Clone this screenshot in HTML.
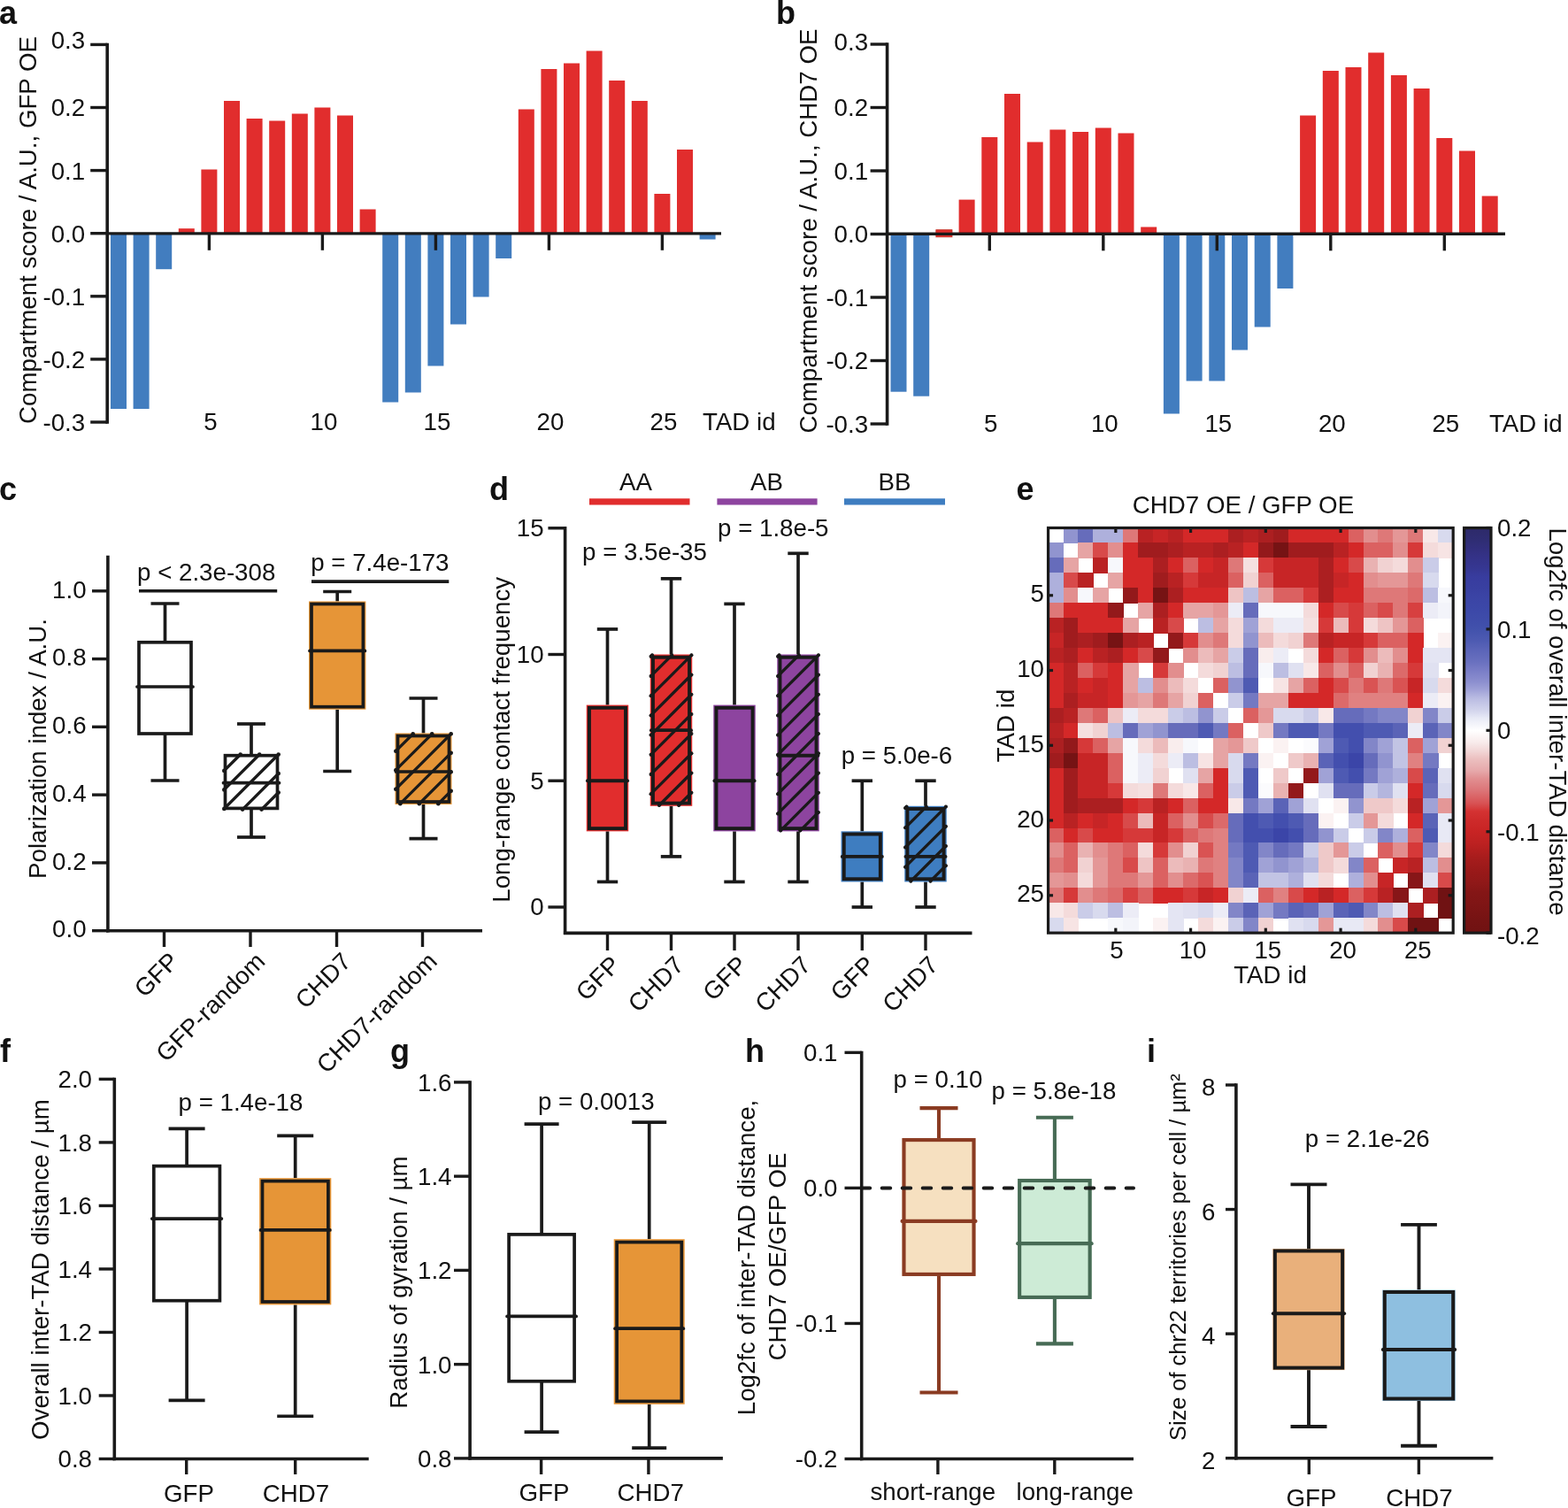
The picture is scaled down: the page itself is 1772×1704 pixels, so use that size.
<!DOCTYPE html><html><head><meta charset="utf-8"><title>Figure</title><style>html,body{margin:0;padding:0;background:#fff;}svg{display:block;}</style></head><body><svg width="1772" height="1704" viewBox="0 0 1772 1704" font-family="'Liberation Sans', Arial, sans-serif" font-size="27.7" fill="#111"><rect width="100%" height="100%" fill="#fff"/><text x="-1" y="27" font-weight="bold" font-size="36">a</text>
<rect x="125" y="263.8" width="18" height="198.2" fill="#427dbf"/>
<rect x="150.6" y="263.8" width="18" height="198.2" fill="#427dbf"/>
<rect x="176.2" y="263.8" width="18" height="40.4" fill="#427dbf"/>
<rect x="201.8" y="258.2" width="18" height="5.6" fill="#e12d2d"/>
<rect x="227.4" y="191.5" width="18" height="72.3" fill="#e12d2d"/>
<rect x="253" y="114" width="18" height="149.8" fill="#e12d2d"/>
<rect x="278.6" y="134" width="18" height="129.8" fill="#e12d2d"/>
<rect x="304.2" y="136.5" width="18" height="127.3" fill="#e12d2d"/>
<rect x="329.8" y="128.5" width="18" height="135.3" fill="#e12d2d"/>
<rect x="355.4" y="121.5" width="18" height="142.3" fill="#e12d2d"/>
<rect x="381" y="130.5" width="18" height="133.3" fill="#e12d2d"/>
<rect x="406.6" y="236.5" width="18" height="27.3" fill="#e12d2d"/>
<rect x="432.2" y="263.8" width="18" height="190.7" fill="#427dbf"/>
<rect x="457.8" y="263.8" width="18" height="179.7" fill="#427dbf"/>
<rect x="483.4" y="263.8" width="18" height="149.7" fill="#427dbf"/>
<rect x="509" y="263.8" width="18" height="102.7" fill="#427dbf"/>
<rect x="534.6" y="263.8" width="18" height="71.7" fill="#427dbf"/>
<rect x="560.2" y="263.8" width="18" height="28.2" fill="#427dbf"/>
<rect x="585.8" y="123.5" width="18" height="140.3" fill="#e12d2d"/>
<rect x="611.4" y="78" width="18" height="185.8" fill="#e12d2d"/>
<rect x="637" y="71.5" width="18" height="192.3" fill="#e12d2d"/>
<rect x="662.6" y="57.5" width="18" height="206.3" fill="#e12d2d"/>
<rect x="688.2" y="91" width="18" height="172.8" fill="#e12d2d"/>
<rect x="713.8" y="114" width="18" height="149.8" fill="#e12d2d"/>
<rect x="739.4" y="219" width="18" height="44.8" fill="#e12d2d"/>
<rect x="765" y="169" width="18" height="94.8" fill="#e12d2d"/>
<rect x="790.6" y="263.8" width="18" height="6.7" fill="#427dbf"/>
<line x1="121.2" y1="48.7" x2="121.2" y2="478.7" stroke="#1a1a1a" stroke-width="3.6"/>
<line x1="121.2" y1="263.8" x2="815" y2="263.8" stroke="#1a1a1a" stroke-width="3.2"/>
<line x1="102.2" y1="50.4" x2="121.2" y2="50.4" stroke="#1a1a1a" stroke-width="3.4"/>
<line x1="102.2" y1="121.5" x2="121.2" y2="121.5" stroke="#1a1a1a" stroke-width="3.4"/>
<line x1="102.2" y1="192.6" x2="121.2" y2="192.6" stroke="#1a1a1a" stroke-width="3.4"/>
<line x1="102.2" y1="263.7" x2="121.2" y2="263.7" stroke="#1a1a1a" stroke-width="3.4"/>
<line x1="102.2" y1="334.8" x2="121.2" y2="334.8" stroke="#1a1a1a" stroke-width="3.4"/>
<line x1="102.2" y1="405.9" x2="121.2" y2="405.9" stroke="#1a1a1a" stroke-width="3.4"/>
<line x1="102.2" y1="477" x2="121.2" y2="477" stroke="#1a1a1a" stroke-width="3.4"/>
<line x1="236.4" y1="263.8" x2="236.4" y2="282.8" stroke="#1a1a1a" stroke-width="3.4"/>
<text x="237.9" y="485.5" text-anchor="middle">5</text>
<line x1="364.4" y1="263.8" x2="364.4" y2="282.8" stroke="#1a1a1a" stroke-width="3.4"/>
<text x="365.9" y="485.5" text-anchor="middle">10</text>
<line x1="492.4" y1="263.8" x2="492.4" y2="282.8" stroke="#1a1a1a" stroke-width="3.4"/>
<text x="493.9" y="485.5" text-anchor="middle">15</text>
<line x1="620.4" y1="263.8" x2="620.4" y2="282.8" stroke="#1a1a1a" stroke-width="3.4"/>
<text x="621.9" y="485.5" text-anchor="middle">20</text>
<line x1="748.4" y1="263.8" x2="748.4" y2="282.8" stroke="#1a1a1a" stroke-width="3.4"/>
<text x="749.9" y="485.5" text-anchor="middle">25</text>
<text x="794" y="485.5">TAD id</text>
<text x="96.2" y="54.8" text-anchor="end">0.3</text>
<text x="96.2" y="131.4" text-anchor="end">0.2</text>
<text x="96.2" y="202.5" text-anchor="end">0.1</text>
<text x="96.2" y="273.6" text-anchor="end">0.0</text>
<text x="96.2" y="344.7" text-anchor="end">-0.1</text>
<text x="96.2" y="415.8" text-anchor="end">-0.2</text>
<text x="96.2" y="486.9" text-anchor="end">-0.3</text>
<text transform="translate(41.2 260) rotate(-90)" text-anchor="middle">Compartment score / A.U., GFP OE</text>
<text x="877" y="27" font-weight="bold" font-size="36">b</text>
<rect x="1006.5" y="264.3" width="18" height="178.4" fill="#427dbf"/>
<rect x="1032.2" y="264.3" width="18" height="183.4" fill="#427dbf"/>
<rect x="1057.9" y="259.8" width="18" height="4.5" fill="#e12d2d"/>
<rect x="1083.6" y="225.6" width="18" height="38.7" fill="#e12d2d"/>
<rect x="1109.3" y="155" width="18" height="109.3" fill="#e12d2d"/>
<rect x="1135" y="106" width="18" height="158.3" fill="#e12d2d"/>
<rect x="1160.7" y="160.5" width="18" height="103.8" fill="#e12d2d"/>
<rect x="1186.4" y="146.5" width="18" height="117.8" fill="#e12d2d"/>
<rect x="1212.1" y="149" width="18" height="115.3" fill="#e12d2d"/>
<rect x="1237.8" y="144.5" width="18" height="119.8" fill="#e12d2d"/>
<rect x="1263.5" y="150.5" width="18" height="113.8" fill="#e12d2d"/>
<rect x="1289.2" y="256.5" width="18" height="7.8" fill="#e12d2d"/>
<rect x="1314.9" y="264.3" width="18" height="203.2" fill="#427dbf"/>
<rect x="1340.6" y="264.3" width="18" height="166.2" fill="#427dbf"/>
<rect x="1366.3" y="264.3" width="18" height="166.2" fill="#427dbf"/>
<rect x="1392" y="264.3" width="18" height="131.2" fill="#427dbf"/>
<rect x="1417.7" y="264.3" width="18" height="105.2" fill="#427dbf"/>
<rect x="1443.4" y="264.3" width="18" height="61.7" fill="#427dbf"/>
<rect x="1469.1" y="130.5" width="18" height="133.8" fill="#e12d2d"/>
<rect x="1494.8" y="80" width="18" height="184.3" fill="#e12d2d"/>
<rect x="1520.5" y="76" width="18" height="188.3" fill="#e12d2d"/>
<rect x="1546.2" y="59.5" width="18" height="204.8" fill="#e12d2d"/>
<rect x="1571.9" y="85" width="18" height="179.3" fill="#e12d2d"/>
<rect x="1597.6" y="100" width="18" height="164.3" fill="#e12d2d"/>
<rect x="1623.3" y="156" width="18" height="108.3" fill="#e12d2d"/>
<rect x="1649" y="170.5" width="18" height="93.8" fill="#e12d2d"/>
<rect x="1674.7" y="221.5" width="18" height="42.8" fill="#e12d2d"/>
<line x1="1002.6" y1="48.3" x2="1002.6" y2="480.7" stroke="#1a1a1a" stroke-width="3.6"/>
<line x1="1002.6" y1="264.3" x2="1701" y2="264.3" stroke="#1a1a1a" stroke-width="3.2"/>
<line x1="983.6" y1="50" x2="1002.6" y2="50" stroke="#1a1a1a" stroke-width="3.4"/>
<line x1="983.6" y1="121.5" x2="1002.6" y2="121.5" stroke="#1a1a1a" stroke-width="3.4"/>
<line x1="983.6" y1="193" x2="1002.6" y2="193" stroke="#1a1a1a" stroke-width="3.4"/>
<line x1="983.6" y1="264.5" x2="1002.6" y2="264.5" stroke="#1a1a1a" stroke-width="3.4"/>
<line x1="983.6" y1="336" x2="1002.6" y2="336" stroke="#1a1a1a" stroke-width="3.4"/>
<line x1="983.6" y1="407.5" x2="1002.6" y2="407.5" stroke="#1a1a1a" stroke-width="3.4"/>
<line x1="983.6" y1="479" x2="1002.6" y2="479" stroke="#1a1a1a" stroke-width="3.4"/>
<line x1="1118.3" y1="264.3" x2="1118.3" y2="283.3" stroke="#1a1a1a" stroke-width="3.4"/>
<text x="1119.8" y="487.5" text-anchor="middle">5</text>
<line x1="1246.8" y1="264.3" x2="1246.8" y2="283.3" stroke="#1a1a1a" stroke-width="3.4"/>
<text x="1248.3" y="487.5" text-anchor="middle">10</text>
<line x1="1375.3" y1="264.3" x2="1375.3" y2="283.3" stroke="#1a1a1a" stroke-width="3.4"/>
<text x="1376.8" y="487.5" text-anchor="middle">15</text>
<line x1="1503.8" y1="264.3" x2="1503.8" y2="283.3" stroke="#1a1a1a" stroke-width="3.4"/>
<text x="1505.3" y="487.5" text-anchor="middle">20</text>
<line x1="1632.3" y1="264.3" x2="1632.3" y2="283.3" stroke="#1a1a1a" stroke-width="3.4"/>
<text x="1633.8" y="487.5" text-anchor="middle">25</text>
<text x="1683" y="487.5">TAD id</text>
<text x="981.1" y="56.9" text-anchor="end">0.3</text>
<text x="981.1" y="131.4" text-anchor="end">0.2</text>
<text x="981.1" y="202.9" text-anchor="end">0.1</text>
<text x="981.1" y="274.4" text-anchor="end">0.0</text>
<text x="981.1" y="345.9" text-anchor="end">-0.1</text>
<text x="981.1" y="417.4" text-anchor="end">-0.2</text>
<text x="981.1" y="488.9" text-anchor="end">-0.3</text>
<text transform="translate(922.8 261.1) rotate(-90)" text-anchor="middle">Compartment score / A.U., CHD7 OE</text>
<rect x="1057.9" y="259.8" width="18" height="7.9" fill="#e12d2d" stroke="#c43125" stroke-width="1"/>
<line x1="1002.6" y1="264.3" x2="1701" y2="264.3" stroke="#1a1a1a" stroke-width="3.2"/>
<text x="-1" y="564.5" font-weight="bold" font-size="36">c</text>
<line x1="121.9" y1="627.8" x2="121.9" y2="1053.4" stroke="#1a1a1a" stroke-width="3.6"/>
<line x1="120.2" y1="1051.7" x2="545" y2="1051.7" stroke="#1a1a1a" stroke-width="3.6"/>
<line x1="104" y1="1051.7" x2="121.9" y2="1051.7" stroke="#1a1a1a" stroke-width="3.4"/>
<text x="97.6" y="1059.4" text-anchor="end">0.0</text>
<line x1="104" y1="974.92" x2="121.9" y2="974.92" stroke="#1a1a1a" stroke-width="3.4"/>
<text x="97.6" y="982.62" text-anchor="end">0.2</text>
<line x1="104" y1="898.14" x2="121.9" y2="898.14" stroke="#1a1a1a" stroke-width="3.4"/>
<text x="97.6" y="905.84" text-anchor="end">0.4</text>
<line x1="104" y1="821.36" x2="121.9" y2="821.36" stroke="#1a1a1a" stroke-width="3.4"/>
<text x="97.6" y="829.06" text-anchor="end">0.6</text>
<line x1="104" y1="744.58" x2="121.9" y2="744.58" stroke="#1a1a1a" stroke-width="3.4"/>
<text x="97.6" y="752.28" text-anchor="end">0.8</text>
<line x1="104" y1="667.8" x2="121.9" y2="667.8" stroke="#1a1a1a" stroke-width="3.4"/>
<text x="97.6" y="675.5" text-anchor="end">1.0</text>
<line x1="185.5" y1="1051.7" x2="185.5" y2="1070" stroke="#1a1a1a" stroke-width="3.4"/>
<line x1="283" y1="1051.7" x2="283" y2="1070" stroke="#1a1a1a" stroke-width="3.4"/>
<line x1="380.5" y1="1051.7" x2="380.5" y2="1070" stroke="#1a1a1a" stroke-width="3.4"/>
<line x1="477.5" y1="1051.7" x2="477.5" y2="1070" stroke="#1a1a1a" stroke-width="3.4"/>
<line x1="186.5" y1="682" x2="186.5" y2="725.8" stroke="#1a1a1a" stroke-width="3.7"/>
<line x1="186.5" y1="829" x2="186.5" y2="882" stroke="#1a1a1a" stroke-width="3.7"/>
<line x1="170.5" y1="682" x2="202.5" y2="682" stroke="#1a1a1a" stroke-width="3.7"/>
<line x1="170.5" y1="882" x2="202.5" y2="882" stroke="#1a1a1a" stroke-width="3.7"/>
<rect x="157" y="725.8" width="59" height="103.2" fill="none" stroke="#1a1a1a" stroke-width="3.7"/>
<line x1="155" y1="776" x2="218" y2="776" stroke="#1a1a1a" stroke-width="3.7" stroke-linecap="round"/>
<line x1="284" y1="818" x2="284" y2="853.7" stroke="#1a1a1a" stroke-width="3.7"/>
<line x1="284" y1="913.4" x2="284" y2="946" stroke="#1a1a1a" stroke-width="3.7"/>
<line x1="268" y1="818" x2="300" y2="818" stroke="#1a1a1a" stroke-width="3.7"/>
<line x1="268" y1="946" x2="300" y2="946" stroke="#1a1a1a" stroke-width="3.7"/>
<line x1="271.7" y1="852.5" x2="253.3" y2="870.9" stroke="#1a1a1a" stroke-width="3.3" stroke-linecap="round"/>
<circle cx="271.7" cy="852.5" r="2.3" fill="#1a1a1a"/>
<circle cx="253.3" cy="870.9" r="2.3" fill="#1a1a1a"/>
<line x1="293.2" y1="852.5" x2="253.3" y2="892.4" stroke="#1a1a1a" stroke-width="3.3" stroke-linecap="round"/>
<circle cx="293.2" cy="852.5" r="2.3" fill="#1a1a1a"/>
<circle cx="253.3" cy="892.4" r="2.3" fill="#1a1a1a"/>
<line x1="314.7" y1="852.5" x2="253.3" y2="913.9" stroke="#1a1a1a" stroke-width="3.3" stroke-linecap="round"/>
<circle cx="314.7" cy="852.5" r="2.3" fill="#1a1a1a"/>
<circle cx="253.3" cy="913.9" r="2.3" fill="#1a1a1a"/>
<line x1="274.1" y1="914.6" x2="314.7" y2="874" stroke="#1a1a1a" stroke-width="3.3" stroke-linecap="round"/>
<circle cx="274.1" cy="914.6" r="2.3" fill="#1a1a1a"/>
<circle cx="314.7" cy="874" r="2.3" fill="#1a1a1a"/>
<line x1="295.6" y1="914.6" x2="314.7" y2="895.5" stroke="#1a1a1a" stroke-width="3.3" stroke-linecap="round"/>
<circle cx="295.6" cy="914.6" r="2.3" fill="#1a1a1a"/>
<circle cx="314.7" cy="895.5" r="2.3" fill="#1a1a1a"/>
<rect x="254.5" y="853.7" width="59" height="59.7" fill="none" stroke="#1a1a1a" stroke-width="3.7"/>
<line x1="252.5" y1="884.7" x2="315.5" y2="884.7" stroke="#1a1a1a" stroke-width="3.7" stroke-linecap="round"/>
<line x1="381.2" y1="668.5" x2="381.2" y2="679.5" stroke="#1a1a1a" stroke-width="3.7"/>
<line x1="381.2" y1="801.7" x2="381.2" y2="871.5" stroke="#1a1a1a" stroke-width="3.7"/>
<line x1="365.2" y1="668.5" x2="397.2" y2="668.5" stroke="#1a1a1a" stroke-width="3.7"/>
<line x1="365.2" y1="871.5" x2="397.2" y2="871.5" stroke="#1a1a1a" stroke-width="3.7"/>
<rect x="349" y="679.5" width="64.4" height="122.2" fill="#e69537"/>
<rect x="352" y="682.5" width="58.4" height="116.2" fill="none" stroke="#1a1a1a" stroke-width="3.7"/>
<line x1="350" y1="735.4" x2="412.4" y2="735.4" stroke="#1a1a1a" stroke-width="3.7" stroke-linecap="round"/>
<line x1="478.5" y1="789" x2="478.5" y2="828.5" stroke="#1a1a1a" stroke-width="3.7"/>
<line x1="478.5" y1="909" x2="478.5" y2="947.6" stroke="#1a1a1a" stroke-width="3.7"/>
<line x1="462.5" y1="789" x2="494.5" y2="789" stroke="#1a1a1a" stroke-width="3.7"/>
<line x1="462.5" y1="947.6" x2="494.5" y2="947.6" stroke="#1a1a1a" stroke-width="3.7"/>
<rect x="446.5" y="828.5" width="64" height="80.5" fill="#e69537"/>
<line x1="466.7" y1="829.3" x2="447.3" y2="848.7" stroke="#1a1a1a" stroke-width="3.3" stroke-linecap="round"/>
<circle cx="466.7" cy="829.3" r="2.3" fill="#1a1a1a"/>
<circle cx="447.3" cy="848.7" r="2.3" fill="#1a1a1a"/>
<line x1="488.2" y1="829.3" x2="447.3" y2="870.2" stroke="#1a1a1a" stroke-width="3.3" stroke-linecap="round"/>
<circle cx="488.2" cy="829.3" r="2.3" fill="#1a1a1a"/>
<circle cx="447.3" cy="870.2" r="2.3" fill="#1a1a1a"/>
<line x1="509.7" y1="829.3" x2="447.3" y2="891.7" stroke="#1a1a1a" stroke-width="3.3" stroke-linecap="round"/>
<circle cx="509.7" cy="829.3" r="2.3" fill="#1a1a1a"/>
<circle cx="447.3" cy="891.7" r="2.3" fill="#1a1a1a"/>
<line x1="452.3" y1="908.2" x2="509.7" y2="850.8" stroke="#1a1a1a" stroke-width="3.3" stroke-linecap="round"/>
<circle cx="452.3" cy="908.2" r="2.3" fill="#1a1a1a"/>
<circle cx="509.7" cy="850.8" r="2.3" fill="#1a1a1a"/>
<line x1="473.8" y1="908.2" x2="509.7" y2="872.3" stroke="#1a1a1a" stroke-width="3.3" stroke-linecap="round"/>
<circle cx="473.8" cy="908.2" r="2.3" fill="#1a1a1a"/>
<circle cx="509.7" cy="872.3" r="2.3" fill="#1a1a1a"/>
<line x1="495.3" y1="908.2" x2="509.7" y2="893.8" stroke="#1a1a1a" stroke-width="3.3" stroke-linecap="round"/>
<circle cx="495.3" cy="908.2" r="2.3" fill="#1a1a1a"/>
<circle cx="509.7" cy="893.8" r="2.3" fill="#1a1a1a"/>
<rect x="449.5" y="831.5" width="58" height="74.5" fill="none" stroke="#1a1a1a" stroke-width="3.7"/>
<line x1="447.5" y1="872" x2="509.5" y2="872" stroke="#1a1a1a" stroke-width="3.7" stroke-linecap="round"/>
<line x1="157" y1="667.8" x2="313.2" y2="667.8" stroke="#1a1a1a" stroke-width="3.6"/>
<line x1="352" y1="657.1" x2="507.3" y2="657.1" stroke="#1a1a1a" stroke-width="3.6"/>
<text x="233.2" y="655.9" text-anchor="middle">p &lt; 2.3e-308</text>
<text x="429.4" y="644.7" text-anchor="middle">p = 7.4e-173</text>
<text transform="translate(52 846) rotate(-90)" text-anchor="middle">Polarization index / A.U.</text>
<text transform="translate(203.5 1088) rotate(-45)" text-anchor="end">GFP</text>
<text transform="translate(301 1088) rotate(-45)" text-anchor="end">GFP-random</text>
<text transform="translate(398.5 1088) rotate(-45)" text-anchor="end">CHD7</text>
<text transform="translate(495.5 1088) rotate(-45)" text-anchor="end">CHD7-random</text>
<text x="553" y="564.5" font-weight="bold" font-size="36">d</text>
<line x1="638.6" y1="594.9" x2="638.6" y2="1056" stroke="#1a1a1a" stroke-width="3.6"/>
<line x1="636.9" y1="1054.4" x2="1098.5" y2="1054.4" stroke="#1a1a1a" stroke-width="3.6"/>
<line x1="619.4" y1="1025" x2="638.6" y2="1025" stroke="#1a1a1a" stroke-width="3.4"/>
<text x="614.6" y="1034.4" text-anchor="end">0</text>
<line x1="619.4" y1="882.25" x2="638.6" y2="882.25" stroke="#1a1a1a" stroke-width="3.4"/>
<text x="614.6" y="891.65" text-anchor="end">5</text>
<line x1="619.4" y1="739.5" x2="638.6" y2="739.5" stroke="#1a1a1a" stroke-width="3.4"/>
<text x="614.6" y="748.9" text-anchor="end">10</text>
<line x1="619.4" y1="596.75" x2="638.6" y2="596.75" stroke="#1a1a1a" stroke-width="3.4"/>
<text x="614.6" y="606.15" text-anchor="end">15</text>
<line x1="686.5" y1="710.95" x2="686.5" y2="796.6" stroke="#1a1a1a" stroke-width="3.7"/>
<line x1="686.5" y1="939.35" x2="686.5" y2="996.45" stroke="#1a1a1a" stroke-width="3.7"/>
<line x1="674.8" y1="710.95" x2="698.2" y2="710.95" stroke="#1a1a1a" stroke-width="3.7"/>
<line x1="674.8" y1="996.45" x2="698.2" y2="996.45" stroke="#1a1a1a" stroke-width="3.7"/>
<rect x="662.75" y="796.6" width="47.5" height="142.75" fill="#e12d2d"/>
<rect x="665.95" y="799.8" width="41.1" height="136.35" fill="none" stroke="#1a1a1a" stroke-width="3.9"/>
<line x1="663.95" y1="882.25" x2="709.05" y2="882.25" stroke="#1a1a1a" stroke-width="3.9" stroke-linecap="round"/>
<line x1="686.5" y1="1054.4" x2="686.5" y2="1074" stroke="#1a1a1a" stroke-width="3.4"/>
<line x1="758.5" y1="653.85" x2="758.5" y2="739.5" stroke="#1a1a1a" stroke-width="3.7"/>
<line x1="758.5" y1="910.8" x2="758.5" y2="967.9" stroke="#1a1a1a" stroke-width="3.7"/>
<line x1="746.8" y1="653.85" x2="770.2" y2="653.85" stroke="#1a1a1a" stroke-width="3.7"/>
<line x1="746.8" y1="967.9" x2="770.2" y2="967.9" stroke="#1a1a1a" stroke-width="3.7"/>
<rect x="734.75" y="739.5" width="47.5" height="171.3" fill="#e12d2d"/>
<line x1="737.05" y1="740.3" x2="735.55" y2="741.8" stroke="#1a1a1a" stroke-width="3.3" stroke-linecap="round"/>
<circle cx="737.05" cy="740.3" r="2" fill="#1a1a1a"/>
<circle cx="735.55" cy="741.8" r="2" fill="#1a1a1a"/>
<line x1="759.25" y1="740.3" x2="735.55" y2="764" stroke="#1a1a1a" stroke-width="3.3" stroke-linecap="round"/>
<circle cx="759.25" cy="740.3" r="2" fill="#1a1a1a"/>
<circle cx="735.55" cy="764" r="2" fill="#1a1a1a"/>
<line x1="781.45" y1="740.3" x2="735.55" y2="786.2" stroke="#1a1a1a" stroke-width="3.3" stroke-linecap="round"/>
<circle cx="781.45" cy="740.3" r="2" fill="#1a1a1a"/>
<circle cx="735.55" cy="786.2" r="2" fill="#1a1a1a"/>
<line x1="735.55" y1="808.4" x2="781.45" y2="762.5" stroke="#1a1a1a" stroke-width="3.3" stroke-linecap="round"/>
<circle cx="735.55" cy="808.4" r="2" fill="#1a1a1a"/>
<circle cx="781.45" cy="762.5" r="2" fill="#1a1a1a"/>
<line x1="735.55" y1="830.6" x2="781.45" y2="784.7" stroke="#1a1a1a" stroke-width="3.3" stroke-linecap="round"/>
<circle cx="735.55" cy="830.6" r="2" fill="#1a1a1a"/>
<circle cx="781.45" cy="784.7" r="2" fill="#1a1a1a"/>
<line x1="735.55" y1="852.8" x2="781.45" y2="806.9" stroke="#1a1a1a" stroke-width="3.3" stroke-linecap="round"/>
<circle cx="735.55" cy="852.8" r="2" fill="#1a1a1a"/>
<circle cx="781.45" cy="806.9" r="2" fill="#1a1a1a"/>
<line x1="735.55" y1="875" x2="781.45" y2="829.1" stroke="#1a1a1a" stroke-width="3.3" stroke-linecap="round"/>
<circle cx="735.55" cy="875" r="2" fill="#1a1a1a"/>
<circle cx="781.45" cy="829.1" r="2" fill="#1a1a1a"/>
<line x1="735.55" y1="897.2" x2="781.45" y2="851.3" stroke="#1a1a1a" stroke-width="3.3" stroke-linecap="round"/>
<circle cx="735.55" cy="897.2" r="2" fill="#1a1a1a"/>
<circle cx="781.45" cy="851.3" r="2" fill="#1a1a1a"/>
<line x1="744.95" y1="910" x2="781.45" y2="873.5" stroke="#1a1a1a" stroke-width="3.3" stroke-linecap="round"/>
<circle cx="744.95" cy="910" r="2" fill="#1a1a1a"/>
<circle cx="781.45" cy="873.5" r="2" fill="#1a1a1a"/>
<line x1="767.15" y1="910" x2="781.45" y2="895.7" stroke="#1a1a1a" stroke-width="3.3" stroke-linecap="round"/>
<circle cx="767.15" cy="910" r="2" fill="#1a1a1a"/>
<circle cx="781.45" cy="895.7" r="2" fill="#1a1a1a"/>
<rect x="737.95" y="742.7" width="41.1" height="164.9" fill="none" stroke="#1a1a1a" stroke-width="3.9"/>
<line x1="735.95" y1="825.15" x2="781.05" y2="825.15" stroke="#1a1a1a" stroke-width="3.9" stroke-linecap="round"/>
<line x1="758.5" y1="1054.4" x2="758.5" y2="1074" stroke="#1a1a1a" stroke-width="3.4"/>
<line x1="830" y1="682.4" x2="830" y2="796.6" stroke="#1a1a1a" stroke-width="3.7"/>
<line x1="830" y1="939.35" x2="830" y2="996.45" stroke="#1a1a1a" stroke-width="3.7"/>
<line x1="818.3" y1="682.4" x2="841.7" y2="682.4" stroke="#1a1a1a" stroke-width="3.7"/>
<line x1="818.3" y1="996.45" x2="841.7" y2="996.45" stroke="#1a1a1a" stroke-width="3.7"/>
<rect x="806.25" y="796.6" width="47.5" height="142.75" fill="#8d449f"/>
<rect x="809.45" y="799.8" width="41.1" height="136.35" fill="none" stroke="#1a1a1a" stroke-width="3.9"/>
<line x1="807.45" y1="882.25" x2="852.55" y2="882.25" stroke="#1a1a1a" stroke-width="3.9" stroke-linecap="round"/>
<line x1="830" y1="1054.4" x2="830" y2="1074" stroke="#1a1a1a" stroke-width="3.4"/>
<line x1="902" y1="625.3" x2="902" y2="739.5" stroke="#1a1a1a" stroke-width="3.7"/>
<line x1="902" y1="939.35" x2="902" y2="996.45" stroke="#1a1a1a" stroke-width="3.7"/>
<line x1="890.3" y1="625.3" x2="913.7" y2="625.3" stroke="#1a1a1a" stroke-width="3.7"/>
<line x1="890.3" y1="996.45" x2="913.7" y2="996.45" stroke="#1a1a1a" stroke-width="3.7"/>
<rect x="878.25" y="739.5" width="47.5" height="199.85" fill="#8d449f"/>
<line x1="880.55" y1="740.3" x2="879.05" y2="741.8" stroke="#1a1a1a" stroke-width="3.3" stroke-linecap="round"/>
<circle cx="880.55" cy="740.3" r="2" fill="#1a1a1a"/>
<circle cx="879.05" cy="741.8" r="2" fill="#1a1a1a"/>
<line x1="902.75" y1="740.3" x2="879.05" y2="764" stroke="#1a1a1a" stroke-width="3.3" stroke-linecap="round"/>
<circle cx="902.75" cy="740.3" r="2" fill="#1a1a1a"/>
<circle cx="879.05" cy="764" r="2" fill="#1a1a1a"/>
<line x1="924.95" y1="740.3" x2="879.05" y2="786.2" stroke="#1a1a1a" stroke-width="3.3" stroke-linecap="round"/>
<circle cx="924.95" cy="740.3" r="2" fill="#1a1a1a"/>
<circle cx="879.05" cy="786.2" r="2" fill="#1a1a1a"/>
<line x1="879.05" y1="808.4" x2="924.95" y2="762.5" stroke="#1a1a1a" stroke-width="3.3" stroke-linecap="round"/>
<circle cx="879.05" cy="808.4" r="2" fill="#1a1a1a"/>
<circle cx="924.95" cy="762.5" r="2" fill="#1a1a1a"/>
<line x1="879.05" y1="830.6" x2="924.95" y2="784.7" stroke="#1a1a1a" stroke-width="3.3" stroke-linecap="round"/>
<circle cx="879.05" cy="830.6" r="2" fill="#1a1a1a"/>
<circle cx="924.95" cy="784.7" r="2" fill="#1a1a1a"/>
<line x1="879.05" y1="852.8" x2="924.95" y2="806.9" stroke="#1a1a1a" stroke-width="3.3" stroke-linecap="round"/>
<circle cx="879.05" cy="852.8" r="2" fill="#1a1a1a"/>
<circle cx="924.95" cy="806.9" r="2" fill="#1a1a1a"/>
<line x1="879.05" y1="875" x2="924.95" y2="829.1" stroke="#1a1a1a" stroke-width="3.3" stroke-linecap="round"/>
<circle cx="879.05" cy="875" r="2" fill="#1a1a1a"/>
<circle cx="924.95" cy="829.1" r="2" fill="#1a1a1a"/>
<line x1="879.05" y1="897.2" x2="924.95" y2="851.3" stroke="#1a1a1a" stroke-width="3.3" stroke-linecap="round"/>
<circle cx="879.05" cy="897.2" r="2" fill="#1a1a1a"/>
<circle cx="924.95" cy="851.3" r="2" fill="#1a1a1a"/>
<line x1="879.05" y1="919.4" x2="924.95" y2="873.5" stroke="#1a1a1a" stroke-width="3.3" stroke-linecap="round"/>
<circle cx="879.05" cy="919.4" r="2" fill="#1a1a1a"/>
<circle cx="924.95" cy="873.5" r="2" fill="#1a1a1a"/>
<line x1="882.1" y1="938.55" x2="924.95" y2="895.7" stroke="#1a1a1a" stroke-width="3.3" stroke-linecap="round"/>
<circle cx="882.1" cy="938.55" r="2" fill="#1a1a1a"/>
<circle cx="924.95" cy="895.7" r="2" fill="#1a1a1a"/>
<line x1="904.3" y1="938.55" x2="924.95" y2="917.9" stroke="#1a1a1a" stroke-width="3.3" stroke-linecap="round"/>
<circle cx="904.3" cy="938.55" r="2" fill="#1a1a1a"/>
<circle cx="924.95" cy="917.9" r="2" fill="#1a1a1a"/>
<rect x="881.45" y="742.7" width="41.1" height="193.45" fill="none" stroke="#1a1a1a" stroke-width="3.9"/>
<line x1="879.45" y1="853.7" x2="924.55" y2="853.7" stroke="#1a1a1a" stroke-width="3.9" stroke-linecap="round"/>
<line x1="902" y1="1054.4" x2="902" y2="1074" stroke="#1a1a1a" stroke-width="3.4"/>
<line x1="974.3" y1="882.25" x2="974.3" y2="939.35" stroke="#1a1a1a" stroke-width="3.7"/>
<line x1="974.3" y1="996.45" x2="974.3" y2="1025" stroke="#1a1a1a" stroke-width="3.7"/>
<line x1="962.6" y1="882.25" x2="986" y2="882.25" stroke="#1a1a1a" stroke-width="3.7"/>
<line x1="962.6" y1="1025" x2="986" y2="1025" stroke="#1a1a1a" stroke-width="3.7"/>
<rect x="950.55" y="939.35" width="47.5" height="57.1" fill="#3e7dc0"/>
<rect x="953.75" y="942.55" width="41.1" height="50.7" fill="none" stroke="#1a1a1a" stroke-width="3.9"/>
<line x1="951.75" y1="967.9" x2="996.85" y2="967.9" stroke="#1a1a1a" stroke-width="3.9" stroke-linecap="round"/>
<line x1="974.3" y1="1054.4" x2="974.3" y2="1074" stroke="#1a1a1a" stroke-width="3.4"/>
<line x1="1046" y1="882.25" x2="1046" y2="910.8" stroke="#1a1a1a" stroke-width="3.7"/>
<line x1="1046" y1="996.45" x2="1046" y2="1025" stroke="#1a1a1a" stroke-width="3.7"/>
<line x1="1034.3" y1="882.25" x2="1057.7" y2="882.25" stroke="#1a1a1a" stroke-width="3.7"/>
<line x1="1034.3" y1="1025" x2="1057.7" y2="1025" stroke="#1a1a1a" stroke-width="3.7"/>
<rect x="1022.25" y="910.8" width="47.5" height="85.65" fill="#3e7dc0"/>
<line x1="1024.55" y1="911.6" x2="1023.05" y2="913.1" stroke="#1a1a1a" stroke-width="3.3" stroke-linecap="round"/>
<circle cx="1024.55" cy="911.6" r="2" fill="#1a1a1a"/>
<circle cx="1023.05" cy="913.1" r="2" fill="#1a1a1a"/>
<line x1="1046.75" y1="911.6" x2="1023.05" y2="935.3" stroke="#1a1a1a" stroke-width="3.3" stroke-linecap="round"/>
<circle cx="1046.75" cy="911.6" r="2" fill="#1a1a1a"/>
<circle cx="1023.05" cy="935.3" r="2" fill="#1a1a1a"/>
<line x1="1068.95" y1="911.6" x2="1023.05" y2="957.5" stroke="#1a1a1a" stroke-width="3.3" stroke-linecap="round"/>
<circle cx="1068.95" cy="911.6" r="2" fill="#1a1a1a"/>
<circle cx="1023.05" cy="957.5" r="2" fill="#1a1a1a"/>
<line x1="1023.05" y1="979.7" x2="1068.95" y2="933.8" stroke="#1a1a1a" stroke-width="3.3" stroke-linecap="round"/>
<circle cx="1023.05" cy="979.7" r="2" fill="#1a1a1a"/>
<circle cx="1068.95" cy="933.8" r="2" fill="#1a1a1a"/>
<line x1="1029.3" y1="995.65" x2="1068.95" y2="956" stroke="#1a1a1a" stroke-width="3.3" stroke-linecap="round"/>
<circle cx="1029.3" cy="995.65" r="2" fill="#1a1a1a"/>
<circle cx="1068.95" cy="956" r="2" fill="#1a1a1a"/>
<line x1="1051.5" y1="995.65" x2="1068.95" y2="978.2" stroke="#1a1a1a" stroke-width="3.3" stroke-linecap="round"/>
<circle cx="1051.5" cy="995.65" r="2" fill="#1a1a1a"/>
<circle cx="1068.95" cy="978.2" r="2" fill="#1a1a1a"/>
<rect x="1025.45" y="914" width="41.1" height="79.25" fill="none" stroke="#1a1a1a" stroke-width="3.9"/>
<line x1="1023.45" y1="967.9" x2="1068.55" y2="967.9" stroke="#1a1a1a" stroke-width="3.9" stroke-linecap="round"/>
<line x1="1046" y1="1054.4" x2="1046" y2="1074" stroke="#1a1a1a" stroke-width="3.4"/>
<text transform="translate(702.5 1092) rotate(-45)" text-anchor="end">GFP</text>
<text transform="translate(774.5 1092) rotate(-45)" text-anchor="end">CHD7</text>
<text transform="translate(846 1092) rotate(-45)" text-anchor="end">GFP</text>
<text transform="translate(918 1092) rotate(-45)" text-anchor="end">CHD7</text>
<text transform="translate(990.3 1092) rotate(-45)" text-anchor="end">GFP</text>
<text transform="translate(1062 1092) rotate(-45)" text-anchor="end">CHD7</text>
<rect x="666" y="563.3" width="113.5" height="7.2" fill="#e12d2d"/>
<rect x="810.4" y="563.3" width="113.2" height="7.2" fill="#8d449f"/>
<rect x="954" y="563.3" width="114" height="7.2" fill="#3e7dc0"/>
<text x="718.5" y="553.8" text-anchor="middle">AA</text>
<text x="866.5" y="553.8" text-anchor="middle">AB</text>
<text x="1011" y="553.8" text-anchor="middle">BB</text>
<text x="728.5" y="632.8" text-anchor="middle">p = 3.5e-35</text>
<text x="873.8" y="605.8" text-anchor="middle">p = 1.8e-5</text>
<text x="1013.5" y="863" text-anchor="middle">p = 5.0e-6</text>
<text transform="translate(576 835.8) rotate(-90)" text-anchor="middle">Long-range contact frequency</text>
<text x="1148.5" y="564.5" font-weight="bold" font-size="36">e</text>
<g shape-rendering="crispEdges"><rect x="1201.5" y="596.5" width="17.35" height="17.35" fill="#9194cf"/><rect x="1218.45" y="596.5" width="17.35" height="17.35" fill="#666cbb"/><rect x="1235.4" y="596.5" width="17.35" height="17.35" fill="#aeb0dc"/><rect x="1252.35" y="596.5" width="17.35" height="17.35" fill="#aeb0dc"/><rect x="1269.3" y="596.5" width="17.35" height="17.35" fill="#de7878"/><rect x="1286.25" y="596.5" width="17.35" height="17.35" fill="#b92223"/><rect x="1303.2" y="596.5" width="17.35" height="17.35" fill="#c72526"/><rect x="1320.15" y="596.5" width="17.35" height="17.35" fill="#b92223"/><rect x="1337.1" y="596.5" width="17.35" height="17.35" fill="#d42828"/><rect x="1354.05" y="596.5" width="17.35" height="17.35" fill="#d42828"/><rect x="1371" y="596.5" width="17.35" height="17.35" fill="#d42828"/><rect x="1387.95" y="596.5" width="17.35" height="17.35" fill="#ac1f21"/><rect x="1404.9" y="596.5" width="17.35" height="17.35" fill="#b92223"/><rect x="1421.85" y="596.5" width="17.35" height="17.35" fill="#ac1f21"/><rect x="1438.8" y="596.5" width="17.35" height="17.35" fill="#a01c1e"/><rect x="1455.75" y="596.5" width="17.35" height="17.35" fill="#d42828"/><rect x="1472.7" y="596.5" width="17.35" height="17.35" fill="#d42828"/><rect x="1489.65" y="596.5" width="17.35" height="17.35" fill="#d42828"/><rect x="1506.6" y="596.5" width="17.35" height="17.35" fill="#d42828"/><rect x="1523.55" y="596.5" width="17.35" height="17.35" fill="#db6161"/><rect x="1540.5" y="596.5" width="17.35" height="17.35" fill="#e28e8e"/><rect x="1557.45" y="596.5" width="17.35" height="17.35" fill="#de7878"/><rect x="1574.4" y="596.5" width="17.35" height="17.35" fill="#e49797"/><rect x="1591.35" y="596.5" width="17.35" height="17.35" fill="#de7878"/><rect x="1608.3" y="596.5" width="17.35" height="17.35" fill="#f8e8e8"/><rect x="1625.25" y="596.5" width="17.35" height="17.35" fill="#d8daee"/><rect x="1184.55" y="613.45" width="17.35" height="17.35" fill="#9194cf"/><rect x="1218.45" y="613.45" width="17.35" height="17.35" fill="#e6a4a4"/><rect x="1235.4" y="613.45" width="17.35" height="17.35" fill="#d84a4a"/><rect x="1252.35" y="613.45" width="17.35" height="17.35" fill="#e28e8e"/><rect x="1269.3" y="613.45" width="17.35" height="17.35" fill="#d42828"/><rect x="1286.25" y="613.45" width="17.35" height="17.35" fill="#a01c1e"/><rect x="1303.2" y="613.45" width="17.35" height="17.35" fill="#a01c1e"/><rect x="1320.15" y="613.45" width="17.35" height="17.35" fill="#ac1f21"/><rect x="1337.1" y="613.45" width="17.35" height="17.35" fill="#b92223"/><rect x="1354.05" y="613.45" width="17.35" height="17.35" fill="#b92223"/><rect x="1371" y="613.45" width="17.35" height="17.35" fill="#ac1f21"/><rect x="1387.95" y="613.45" width="17.35" height="17.35" fill="#b92223"/><rect x="1404.9" y="613.45" width="17.35" height="17.35" fill="#d42828"/><rect x="1421.85" y="613.45" width="17.35" height="17.35" fill="#93191b"/><rect x="1438.8" y="613.45" width="17.35" height="17.35" fill="#761314"/><rect x="1455.75" y="613.45" width="17.35" height="17.35" fill="#a01c1e"/><rect x="1472.7" y="613.45" width="17.35" height="17.35" fill="#a01c1e"/><rect x="1489.65" y="613.45" width="17.35" height="17.35" fill="#a01c1e"/><rect x="1506.6" y="613.45" width="17.35" height="17.35" fill="#b92223"/><rect x="1523.55" y="613.45" width="17.35" height="17.35" fill="#d42828"/><rect x="1540.5" y="613.45" width="17.35" height="17.35" fill="#db6161"/><rect x="1557.45" y="613.45" width="17.35" height="17.35" fill="#db6161"/><rect x="1574.4" y="613.45" width="17.35" height="17.35" fill="#e28e8e"/><rect x="1591.35" y="613.45" width="17.35" height="17.35" fill="#d63939"/><rect x="1608.3" y="613.45" width="17.35" height="17.35" fill="#f4dbdb"/><rect x="1625.25" y="613.45" width="17.35" height="17.35" fill="#f7e4e4"/><rect x="1184.55" y="630.4" width="17.35" height="17.35" fill="#666cbb"/><rect x="1201.5" y="630.4" width="17.35" height="17.35" fill="#e6a4a4"/><rect x="1235.4" y="630.4" width="17.35" height="17.35" fill="#b92223"/><rect x="1252.35" y="630.4" width="17.35" height="17.35" fill="#f7f8fc"/><rect x="1269.3" y="630.4" width="17.35" height="17.35" fill="#d42828"/><rect x="1286.25" y="630.4" width="17.35" height="17.35" fill="#d42828"/><rect x="1303.2" y="630.4" width="17.35" height="17.35" fill="#ac1f21"/><rect x="1320.15" y="630.4" width="17.35" height="17.35" fill="#d42828"/><rect x="1337.1" y="630.4" width="17.35" height="17.35" fill="#db6161"/><rect x="1354.05" y="630.4" width="17.35" height="17.35" fill="#d42828"/><rect x="1371" y="630.4" width="17.35" height="17.35" fill="#c72526"/><rect x="1387.95" y="630.4" width="17.35" height="17.35" fill="#de7878"/><rect x="1404.9" y="630.4" width="17.35" height="17.35" fill="#f5e0e0"/><rect x="1421.85" y="630.4" width="17.35" height="17.35" fill="#d63939"/><rect x="1438.8" y="630.4" width="17.35" height="17.35" fill="#c72526"/><rect x="1455.75" y="630.4" width="17.35" height="17.35" fill="#c72526"/><rect x="1472.7" y="630.4" width="17.35" height="17.35" fill="#c72526"/><rect x="1489.65" y="630.4" width="17.35" height="17.35" fill="#ac1f21"/><rect x="1506.6" y="630.4" width="17.35" height="17.35" fill="#d42828"/><rect x="1523.55" y="630.4" width="17.35" height="17.35" fill="#d84a4a"/><rect x="1540.5" y="630.4" width="17.35" height="17.35" fill="#e9b2b2"/><rect x="1557.45" y="630.4" width="17.35" height="17.35" fill="#f1d2d2"/><rect x="1574.4" y="630.4" width="17.35" height="17.35" fill="#f4dbdb"/><rect x="1591.35" y="630.4" width="17.35" height="17.35" fill="#e28e8e"/><rect x="1608.3" y="630.4" width="17.35" height="17.35" fill="#cacce8"/><rect x="1184.55" y="647.35" width="17.35" height="17.35" fill="#aeb0dc"/><rect x="1201.5" y="647.35" width="17.35" height="17.35" fill="#d84a4a"/><rect x="1218.45" y="647.35" width="17.35" height="17.35" fill="#b92223"/><rect x="1252.35" y="647.35" width="17.35" height="17.35" fill="#e6a4a4"/><rect x="1269.3" y="647.35" width="17.35" height="17.35" fill="#d42828"/><rect x="1286.25" y="647.35" width="17.35" height="17.35" fill="#d42828"/><rect x="1303.2" y="647.35" width="17.35" height="17.35" fill="#a01c1e"/><rect x="1320.15" y="647.35" width="17.35" height="17.35" fill="#b92223"/><rect x="1337.1" y="647.35" width="17.35" height="17.35" fill="#d63939"/><rect x="1354.05" y="647.35" width="17.35" height="17.35" fill="#c72526"/><rect x="1371" y="647.35" width="17.35" height="17.35" fill="#c72526"/><rect x="1387.95" y="647.35" width="17.35" height="17.35" fill="#db6161"/><rect x="1404.9" y="647.35" width="17.35" height="17.35" fill="#f1d2d2"/><rect x="1421.85" y="647.35" width="17.35" height="17.35" fill="#db6161"/><rect x="1438.8" y="647.35" width="17.35" height="17.35" fill="#c72526"/><rect x="1455.75" y="647.35" width="17.35" height="17.35" fill="#c72526"/><rect x="1472.7" y="647.35" width="17.35" height="17.35" fill="#c72526"/><rect x="1489.65" y="647.35" width="17.35" height="17.35" fill="#ac1f21"/><rect x="1506.6" y="647.35" width="17.35" height="17.35" fill="#c72526"/><rect x="1523.55" y="647.35" width="17.35" height="17.35" fill="#d42828"/><rect x="1540.5" y="647.35" width="17.35" height="17.35" fill="#e28e8e"/><rect x="1557.45" y="647.35" width="17.35" height="17.35" fill="#e49797"/><rect x="1574.4" y="647.35" width="17.35" height="17.35" fill="#e49797"/><rect x="1591.35" y="647.35" width="17.35" height="17.35" fill="#de7878"/><rect x="1608.3" y="647.35" width="17.35" height="17.35" fill="#d8daee"/><rect x="1184.55" y="664.3" width="17.35" height="17.35" fill="#aeb0dc"/><rect x="1201.5" y="664.3" width="17.35" height="17.35" fill="#e28e8e"/><rect x="1218.45" y="664.3" width="17.35" height="17.35" fill="#f7f8fc"/><rect x="1235.4" y="664.3" width="17.35" height="17.35" fill="#e6a4a4"/><rect x="1269.3" y="664.3" width="17.35" height="17.35" fill="#93191b"/><rect x="1286.25" y="664.3" width="17.35" height="17.35" fill="#d42828"/><rect x="1303.2" y="664.3" width="17.35" height="17.35" fill="#761314"/><rect x="1320.15" y="664.3" width="17.35" height="17.35" fill="#ac1f21"/><rect x="1337.1" y="664.3" width="17.35" height="17.35" fill="#d42828"/><rect x="1354.05" y="664.3" width="17.35" height="17.35" fill="#d42828"/><rect x="1371" y="664.3" width="17.35" height="17.35" fill="#d42828"/><rect x="1387.95" y="664.3" width="17.35" height="17.35" fill="#eec4c4"/><rect x="1404.9" y="664.3" width="17.35" height="17.35" fill="#bcbee2"/><rect x="1421.85" y="664.3" width="17.35" height="17.35" fill="#e6a4a4"/><rect x="1438.8" y="664.3" width="17.35" height="17.35" fill="#db6161"/><rect x="1455.75" y="664.3" width="17.35" height="17.35" fill="#db6161"/><rect x="1472.7" y="664.3" width="17.35" height="17.35" fill="#d63939"/><rect x="1489.65" y="664.3" width="17.35" height="17.35" fill="#ac1f21"/><rect x="1506.6" y="664.3" width="17.35" height="17.35" fill="#d42828"/><rect x="1523.55" y="664.3" width="17.35" height="17.35" fill="#d42828"/><rect x="1540.5" y="664.3" width="17.35" height="17.35" fill="#de7878"/><rect x="1557.45" y="664.3" width="17.35" height="17.35" fill="#de7878"/><rect x="1574.4" y="664.3" width="17.35" height="17.35" fill="#de7878"/><rect x="1591.35" y="664.3" width="17.35" height="17.35" fill="#dc6a6a"/><rect x="1608.3" y="664.3" width="17.35" height="17.35" fill="#bcbee2"/><rect x="1625.25" y="664.3" width="17.35" height="17.35" fill="#f7f8fc"/><rect x="1184.55" y="681.25" width="17.35" height="17.35" fill="#de7878"/><rect x="1201.5" y="681.25" width="17.35" height="17.35" fill="#d42828"/><rect x="1218.45" y="681.25" width="17.35" height="17.35" fill="#d42828"/><rect x="1235.4" y="681.25" width="17.35" height="17.35" fill="#d42828"/><rect x="1252.35" y="681.25" width="17.35" height="17.35" fill="#93191b"/><rect x="1286.25" y="681.25" width="17.35" height="17.35" fill="#e6a4a4"/><rect x="1303.2" y="681.25" width="17.35" height="17.35" fill="#ac1f21"/><rect x="1320.15" y="681.25" width="17.35" height="17.35" fill="#d42828"/><rect x="1337.1" y="681.25" width="17.35" height="17.35" fill="#e6a4a4"/><rect x="1354.05" y="681.25" width="17.35" height="17.35" fill="#e6a4a4"/><rect x="1371" y="681.25" width="17.35" height="17.35" fill="#e49797"/><rect x="1387.95" y="681.25" width="17.35" height="17.35" fill="#ececf6"/><rect x="1404.9" y="681.25" width="17.35" height="17.35" fill="#666cbb"/><rect x="1421.85" y="681.25" width="17.35" height="17.35" fill="#f7f8fc"/><rect x="1438.8" y="681.25" width="17.35" height="17.35" fill="#f7f8fc"/><rect x="1455.75" y="681.25" width="17.35" height="17.35" fill="#f7f8fc"/><rect x="1472.7" y="681.25" width="17.35" height="17.35" fill="#f4dbdb"/><rect x="1489.65" y="681.25" width="17.35" height="17.35" fill="#d42828"/><rect x="1506.6" y="681.25" width="17.35" height="17.35" fill="#d84a4a"/><rect x="1523.55" y="681.25" width="17.35" height="17.35" fill="#d63939"/><rect x="1540.5" y="681.25" width="17.35" height="17.35" fill="#db6161"/><rect x="1557.45" y="681.25" width="17.35" height="17.35" fill="#d84a4a"/><rect x="1574.4" y="681.25" width="17.35" height="17.35" fill="#de7878"/><rect x="1591.35" y="681.25" width="17.35" height="17.35" fill="#d74040"/><rect x="1608.3" y="681.25" width="17.35" height="17.35" fill="#ececf6"/><rect x="1625.25" y="681.25" width="17.35" height="17.35" fill="#f3f4fa"/><rect x="1184.55" y="698.2" width="17.35" height="17.35" fill="#b92223"/><rect x="1201.5" y="698.2" width="17.35" height="17.35" fill="#a01c1e"/><rect x="1218.45" y="698.2" width="17.35" height="17.35" fill="#d42828"/><rect x="1235.4" y="698.2" width="17.35" height="17.35" fill="#d42828"/><rect x="1252.35" y="698.2" width="17.35" height="17.35" fill="#d42828"/><rect x="1269.3" y="698.2" width="17.35" height="17.35" fill="#e6a4a4"/><rect x="1303.2" y="698.2" width="17.35" height="17.35" fill="#b92223"/><rect x="1320.15" y="698.2" width="17.35" height="17.35" fill="#d84a4a"/><rect x="1354.05" y="698.2" width="17.35" height="17.35" fill="#bcbee2"/><rect x="1371" y="698.2" width="17.35" height="17.35" fill="#e6a4a4"/><rect x="1387.95" y="698.2" width="17.35" height="17.35" fill="#f4dbdb"/><rect x="1404.9" y="698.2" width="17.35" height="17.35" fill="#a0a2d6"/><rect x="1421.85" y="698.2" width="17.35" height="17.35" fill="#f4dbdb"/><rect x="1438.8" y="698.2" width="17.35" height="17.35" fill="#ececf6"/><rect x="1455.75" y="698.2" width="17.35" height="17.35" fill="#ececf6"/><rect x="1472.7" y="698.2" width="17.35" height="17.35" fill="#f5e0e0"/><rect x="1489.65" y="698.2" width="17.35" height="17.35" fill="#d63939"/><rect x="1506.6" y="698.2" width="17.35" height="17.35" fill="#ecbbbb"/><rect x="1523.55" y="698.2" width="17.35" height="17.35" fill="#d63939"/><rect x="1540.5" y="698.2" width="17.35" height="17.35" fill="#f4dbdb"/><rect x="1557.45" y="698.2" width="17.35" height="17.35" fill="#eec4c4"/><rect x="1574.4" y="698.2" width="17.35" height="17.35" fill="#e49797"/><rect x="1591.35" y="698.2" width="17.35" height="17.35" fill="#db6161"/><rect x="1184.55" y="715.15" width="17.35" height="17.35" fill="#c72526"/><rect x="1201.5" y="715.15" width="17.35" height="17.35" fill="#a01c1e"/><rect x="1218.45" y="715.15" width="17.35" height="17.35" fill="#ac1f21"/><rect x="1235.4" y="715.15" width="17.35" height="17.35" fill="#a01c1e"/><rect x="1252.35" y="715.15" width="17.35" height="17.35" fill="#761314"/><rect x="1269.3" y="715.15" width="17.35" height="17.35" fill="#ac1f21"/><rect x="1286.25" y="715.15" width="17.35" height="17.35" fill="#b92223"/><rect x="1320.15" y="715.15" width="17.35" height="17.35" fill="#93191b"/><rect x="1337.1" y="715.15" width="17.35" height="17.35" fill="#d63939"/><rect x="1354.05" y="715.15" width="17.35" height="17.35" fill="#e28e8e"/><rect x="1371" y="715.15" width="17.35" height="17.35" fill="#de7878"/><rect x="1387.95" y="715.15" width="17.35" height="17.35" fill="#f4dbdb"/><rect x="1404.9" y="715.15" width="17.35" height="17.35" fill="#9194cf"/><rect x="1421.85" y="715.15" width="17.35" height="17.35" fill="#ecbbbb"/><rect x="1438.8" y="715.15" width="17.35" height="17.35" fill="#f4dbdb"/><rect x="1455.75" y="715.15" width="17.35" height="17.35" fill="#f1d2d2"/><rect x="1472.7" y="715.15" width="17.35" height="17.35" fill="#de7878"/><rect x="1489.65" y="715.15" width="17.35" height="17.35" fill="#b92223"/><rect x="1506.6" y="715.15" width="17.35" height="17.35" fill="#c72526"/><rect x="1523.55" y="715.15" width="17.35" height="17.35" fill="#c72526"/><rect x="1540.5" y="715.15" width="17.35" height="17.35" fill="#d63939"/><rect x="1557.45" y="715.15" width="17.35" height="17.35" fill="#db6161"/><rect x="1574.4" y="715.15" width="17.35" height="17.35" fill="#db6161"/><rect x="1591.35" y="715.15" width="17.35" height="17.35" fill="#d42828"/><rect x="1625.25" y="715.15" width="17.35" height="17.35" fill="#fbf2f2"/><rect x="1184.55" y="732.1" width="17.35" height="17.35" fill="#b92223"/><rect x="1201.5" y="732.1" width="17.35" height="17.35" fill="#ac1f21"/><rect x="1218.45" y="732.1" width="17.35" height="17.35" fill="#d42828"/><rect x="1235.4" y="732.1" width="17.35" height="17.35" fill="#b92223"/><rect x="1252.35" y="732.1" width="17.35" height="17.35" fill="#ac1f21"/><rect x="1269.3" y="732.1" width="17.35" height="17.35" fill="#d42828"/><rect x="1286.25" y="732.1" width="17.35" height="17.35" fill="#d84a4a"/><rect x="1303.2" y="732.1" width="17.35" height="17.35" fill="#93191b"/><rect x="1337.1" y="732.1" width="17.35" height="17.35" fill="#e28e8e"/><rect x="1354.05" y="732.1" width="17.35" height="17.35" fill="#ecbbbb"/><rect x="1371" y="732.1" width="17.35" height="17.35" fill="#e6a4a4"/><rect x="1387.95" y="732.1" width="17.35" height="17.35" fill="#cacce8"/><rect x="1404.9" y="732.1" width="17.35" height="17.35" fill="#666cbb"/><rect x="1421.85" y="732.1" width="17.35" height="17.35" fill="#f9eded"/><rect x="1438.8" y="732.1" width="17.35" height="17.35" fill="#ececf6"/><rect x="1472.7" y="732.1" width="17.35" height="17.35" fill="#f4dbdb"/><rect x="1489.65" y="732.1" width="17.35" height="17.35" fill="#d42828"/><rect x="1506.6" y="732.1" width="17.35" height="17.35" fill="#db6161"/><rect x="1523.55" y="732.1" width="17.35" height="17.35" fill="#d63939"/><rect x="1540.5" y="732.1" width="17.35" height="17.35" fill="#e28e8e"/><rect x="1557.45" y="732.1" width="17.35" height="17.35" fill="#ecbbbb"/><rect x="1574.4" y="732.1" width="17.35" height="17.35" fill="#e28e8e"/><rect x="1591.35" y="732.1" width="17.35" height="17.35" fill="#d42828"/><rect x="1608.3" y="732.1" width="17.35" height="17.35" fill="#e4e5f3"/><rect x="1625.25" y="732.1" width="17.35" height="17.35" fill="#e4e5f3"/><rect x="1184.55" y="749.05" width="17.35" height="17.35" fill="#d42828"/><rect x="1201.5" y="749.05" width="17.35" height="17.35" fill="#b92223"/><rect x="1218.45" y="749.05" width="17.35" height="17.35" fill="#db6161"/><rect x="1235.4" y="749.05" width="17.35" height="17.35" fill="#d63939"/><rect x="1252.35" y="749.05" width="17.35" height="17.35" fill="#d42828"/><rect x="1269.3" y="749.05" width="17.35" height="17.35" fill="#e6a4a4"/><rect x="1303.2" y="749.05" width="17.35" height="17.35" fill="#d63939"/><rect x="1320.15" y="749.05" width="17.35" height="17.35" fill="#e28e8e"/><rect x="1354.05" y="749.05" width="17.35" height="17.35" fill="#f4dbdb"/><rect x="1371" y="749.05" width="17.35" height="17.35" fill="#f1d2d2"/><rect x="1387.95" y="749.05" width="17.35" height="17.35" fill="#bcbee2"/><rect x="1404.9" y="749.05" width="17.35" height="17.35" fill="#666cbb"/><rect x="1421.85" y="749.05" width="17.35" height="17.35" fill="#f7f8fc"/><rect x="1438.8" y="749.05" width="17.35" height="17.35" fill="#bcbee2"/><rect x="1455.75" y="749.05" width="17.35" height="17.35" fill="#e0e1f1"/><rect x="1472.7" y="749.05" width="17.35" height="17.35" fill="#f8e8e8"/><rect x="1489.65" y="749.05" width="17.35" height="17.35" fill="#db6161"/><rect x="1506.6" y="749.05" width="17.35" height="17.35" fill="#e28e8e"/><rect x="1523.55" y="749.05" width="17.35" height="17.35" fill="#db6161"/><rect x="1540.5" y="749.05" width="17.35" height="17.35" fill="#f1d2d2"/><rect x="1557.45" y="749.05" width="17.35" height="17.35" fill="#e9b2b2"/><rect x="1574.4" y="749.05" width="17.35" height="17.35" fill="#dc6a6a"/><rect x="1591.35" y="749.05" width="17.35" height="17.35" fill="#d63939"/><rect x="1608.3" y="749.05" width="17.35" height="17.35" fill="#e0e1f1"/><rect x="1184.55" y="766" width="17.35" height="17.35" fill="#d42828"/><rect x="1201.5" y="766" width="17.35" height="17.35" fill="#b92223"/><rect x="1218.45" y="766" width="17.35" height="17.35" fill="#d42828"/><rect x="1235.4" y="766" width="17.35" height="17.35" fill="#c72526"/><rect x="1252.35" y="766" width="17.35" height="17.35" fill="#d42828"/><rect x="1269.3" y="766" width="17.35" height="17.35" fill="#e6a4a4"/><rect x="1286.25" y="766" width="17.35" height="17.35" fill="#bcbee2"/><rect x="1303.2" y="766" width="17.35" height="17.35" fill="#e28e8e"/><rect x="1320.15" y="766" width="17.35" height="17.35" fill="#ecbbbb"/><rect x="1337.1" y="766" width="17.35" height="17.35" fill="#f4dbdb"/><rect x="1371" y="766" width="17.35" height="17.35" fill="#db6161"/><rect x="1387.95" y="766" width="17.35" height="17.35" fill="#9194cf"/><rect x="1404.9" y="766" width="17.35" height="17.35" fill="#4e5ab3"/><rect x="1438.8" y="766" width="17.35" height="17.35" fill="#f7e4e4"/><rect x="1455.75" y="766" width="17.35" height="17.35" fill="#e6a4a4"/><rect x="1472.7" y="766" width="17.35" height="17.35" fill="#db6161"/><rect x="1489.65" y="766" width="17.35" height="17.35" fill="#d42828"/><rect x="1506.6" y="766" width="17.35" height="17.35" fill="#d84a4a"/><rect x="1523.55" y="766" width="17.35" height="17.35" fill="#de7878"/><rect x="1540.5" y="766" width="17.35" height="17.35" fill="#d95353"/><rect x="1557.45" y="766" width="17.35" height="17.35" fill="#de7878"/><rect x="1574.4" y="766" width="17.35" height="17.35" fill="#d95353"/><rect x="1591.35" y="766" width="17.35" height="17.35" fill="#c72526"/><rect x="1608.3" y="766" width="17.35" height="17.35" fill="#d8daee"/><rect x="1625.25" y="766" width="17.35" height="17.35" fill="#f4dbdb"/><rect x="1184.55" y="782.95" width="17.35" height="17.35" fill="#d42828"/><rect x="1201.5" y="782.95" width="17.35" height="17.35" fill="#ac1f21"/><rect x="1218.45" y="782.95" width="17.35" height="17.35" fill="#c72526"/><rect x="1235.4" y="782.95" width="17.35" height="17.35" fill="#c72526"/><rect x="1252.35" y="782.95" width="17.35" height="17.35" fill="#d42828"/><rect x="1269.3" y="782.95" width="17.35" height="17.35" fill="#e49797"/><rect x="1286.25" y="782.95" width="17.35" height="17.35" fill="#e6a4a4"/><rect x="1303.2" y="782.95" width="17.35" height="17.35" fill="#de7878"/><rect x="1320.15" y="782.95" width="17.35" height="17.35" fill="#e6a4a4"/><rect x="1337.1" y="782.95" width="17.35" height="17.35" fill="#f1d2d2"/><rect x="1354.05" y="782.95" width="17.35" height="17.35" fill="#db6161"/><rect x="1387.95" y="782.95" width="17.35" height="17.35" fill="#cacce8"/><rect x="1404.9" y="782.95" width="17.35" height="17.35" fill="#7479c2"/><rect x="1421.85" y="782.95" width="17.35" height="17.35" fill="#e6a4a4"/><rect x="1438.8" y="782.95" width="17.35" height="17.35" fill="#e6a4a4"/><rect x="1455.75" y="782.95" width="17.35" height="17.35" fill="#d42828"/><rect x="1472.7" y="782.95" width="17.35" height="17.35" fill="#d42828"/><rect x="1489.65" y="782.95" width="17.35" height="17.35" fill="#d42828"/><rect x="1506.6" y="782.95" width="17.35" height="17.35" fill="#dc6a6a"/><rect x="1523.55" y="782.95" width="17.35" height="17.35" fill="#e08181"/><rect x="1540.5" y="782.95" width="17.35" height="17.35" fill="#e08181"/><rect x="1557.45" y="782.95" width="17.35" height="17.35" fill="#e08181"/><rect x="1574.4" y="782.95" width="17.35" height="17.35" fill="#e08181"/><rect x="1591.35" y="782.95" width="17.35" height="17.35" fill="#d42828"/><rect x="1608.3" y="782.95" width="17.35" height="17.35" fill="#ececf6"/><rect x="1625.25" y="782.95" width="17.35" height="17.35" fill="#fbf2f2"/><rect x="1184.55" y="799.9" width="17.35" height="17.35" fill="#ac1f21"/><rect x="1201.5" y="799.9" width="17.35" height="17.35" fill="#b92223"/><rect x="1218.45" y="799.9" width="17.35" height="17.35" fill="#de7878"/><rect x="1235.4" y="799.9" width="17.35" height="17.35" fill="#db6161"/><rect x="1252.35" y="799.9" width="17.35" height="17.35" fill="#eec4c4"/><rect x="1269.3" y="799.9" width="17.35" height="17.35" fill="#ececf6"/><rect x="1286.25" y="799.9" width="17.35" height="17.35" fill="#f4dbdb"/><rect x="1303.2" y="799.9" width="17.35" height="17.35" fill="#f4dbdb"/><rect x="1320.15" y="799.9" width="17.35" height="17.35" fill="#cacce8"/><rect x="1337.1" y="799.9" width="17.35" height="17.35" fill="#bcbee2"/><rect x="1354.05" y="799.9" width="17.35" height="17.35" fill="#9194cf"/><rect x="1371" y="799.9" width="17.35" height="17.35" fill="#cacce8"/><rect x="1404.9" y="799.9" width="17.35" height="17.35" fill="#db6161"/><rect x="1421.85" y="799.9" width="17.35" height="17.35" fill="#e49797"/><rect x="1438.8" y="799.9" width="17.35" height="17.35" fill="#d8daee"/><rect x="1455.75" y="799.9" width="17.35" height="17.35" fill="#d8daee"/><rect x="1472.7" y="799.9" width="17.35" height="17.35" fill="#cacce8"/><rect x="1489.65" y="799.9" width="17.35" height="17.35" fill="#f8e8e8"/><rect x="1506.6" y="799.9" width="17.35" height="17.35" fill="#666cbb"/><rect x="1523.55" y="799.9" width="17.35" height="17.35" fill="#666cbb"/><rect x="1540.5" y="799.9" width="17.35" height="17.35" fill="#7479c2"/><rect x="1557.45" y="799.9" width="17.35" height="17.35" fill="#8286c8"/><rect x="1574.4" y="799.9" width="17.35" height="17.35" fill="#8286c8"/><rect x="1591.35" y="799.9" width="17.35" height="17.35" fill="#f1d2d2"/><rect x="1608.3" y="799.9" width="17.35" height="17.35" fill="#8286c8"/><rect x="1625.25" y="799.9" width="17.35" height="17.35" fill="#cacce8"/><rect x="1184.55" y="816.85" width="17.35" height="17.35" fill="#b92223"/><rect x="1201.5" y="816.85" width="17.35" height="17.35" fill="#d42828"/><rect x="1218.45" y="816.85" width="17.35" height="17.35" fill="#f5e0e0"/><rect x="1235.4" y="816.85" width="17.35" height="17.35" fill="#f1d2d2"/><rect x="1252.35" y="816.85" width="17.35" height="17.35" fill="#bcbee2"/><rect x="1269.3" y="816.85" width="17.35" height="17.35" fill="#666cbb"/><rect x="1286.25" y="816.85" width="17.35" height="17.35" fill="#a0a2d6"/><rect x="1303.2" y="816.85" width="17.35" height="17.35" fill="#9194cf"/><rect x="1320.15" y="816.85" width="17.35" height="17.35" fill="#666cbb"/><rect x="1337.1" y="816.85" width="17.35" height="17.35" fill="#666cbb"/><rect x="1354.05" y="816.85" width="17.35" height="17.35" fill="#4e5ab3"/><rect x="1371" y="816.85" width="17.35" height="17.35" fill="#7479c2"/><rect x="1387.95" y="816.85" width="17.35" height="17.35" fill="#db6161"/><rect x="1421.85" y="816.85" width="17.35" height="17.35" fill="#efc9c9"/><rect x="1438.8" y="816.85" width="17.35" height="17.35" fill="#7479c2"/><rect x="1455.75" y="816.85" width="17.35" height="17.35" fill="#4e5ab3"/><rect x="1472.7" y="816.85" width="17.35" height="17.35" fill="#4e5ab3"/><rect x="1489.65" y="816.85" width="17.35" height="17.35" fill="#7479c2"/><rect x="1506.6" y="816.85" width="17.35" height="17.35" fill="#434fae"/><rect x="1523.55" y="816.85" width="17.35" height="17.35" fill="#434fae"/><rect x="1540.5" y="816.85" width="17.35" height="17.35" fill="#4e5ab3"/><rect x="1557.45" y="816.85" width="17.35" height="17.35" fill="#4e5ab3"/><rect x="1574.4" y="816.85" width="17.35" height="17.35" fill="#5a63b7"/><rect x="1591.35" y="816.85" width="17.35" height="17.35" fill="#ececf6"/><rect x="1608.3" y="816.85" width="17.35" height="17.35" fill="#5a63b7"/><rect x="1625.25" y="816.85" width="17.35" height="17.35" fill="#8286c8"/><rect x="1184.55" y="833.8" width="17.35" height="17.35" fill="#ac1f21"/><rect x="1201.5" y="833.8" width="17.35" height="17.35" fill="#93191b"/><rect x="1218.45" y="833.8" width="17.35" height="17.35" fill="#d63939"/><rect x="1235.4" y="833.8" width="17.35" height="17.35" fill="#db6161"/><rect x="1252.35" y="833.8" width="17.35" height="17.35" fill="#e6a4a4"/><rect x="1269.3" y="833.8" width="17.35" height="17.35" fill="#f7f8fc"/><rect x="1286.25" y="833.8" width="17.35" height="17.35" fill="#f4dbdb"/><rect x="1303.2" y="833.8" width="17.35" height="17.35" fill="#ecbbbb"/><rect x="1320.15" y="833.8" width="17.35" height="17.35" fill="#f9eded"/><rect x="1337.1" y="833.8" width="17.35" height="17.35" fill="#f7f8fc"/><rect x="1371" y="833.8" width="17.35" height="17.35" fill="#e6a4a4"/><rect x="1387.95" y="833.8" width="17.35" height="17.35" fill="#e49797"/><rect x="1404.9" y="833.8" width="17.35" height="17.35" fill="#efc9c9"/><rect x="1438.8" y="833.8" width="17.35" height="17.35" fill="#fbf2f2"/><rect x="1472.7" y="833.8" width="17.35" height="17.35" fill="#fbfbfd"/><rect x="1489.65" y="833.8" width="17.35" height="17.35" fill="#a0a2d6"/><rect x="1506.6" y="833.8" width="17.35" height="17.35" fill="#4e5ab3"/><rect x="1523.55" y="833.8" width="17.35" height="17.35" fill="#434fae"/><rect x="1540.5" y="833.8" width="17.35" height="17.35" fill="#8286c8"/><rect x="1557.45" y="833.8" width="17.35" height="17.35" fill="#a0a2d6"/><rect x="1574.4" y="833.8" width="17.35" height="17.35" fill="#c2c4e4"/><rect x="1591.35" y="833.8" width="17.35" height="17.35" fill="#db6161"/><rect x="1608.3" y="833.8" width="17.35" height="17.35" fill="#a0a2d6"/><rect x="1625.25" y="833.8" width="17.35" height="17.35" fill="#f1d2d2"/><rect x="1184.55" y="850.75" width="17.35" height="17.35" fill="#a01c1e"/><rect x="1201.5" y="850.75" width="17.35" height="17.35" fill="#761314"/><rect x="1218.45" y="850.75" width="17.35" height="17.35" fill="#c72526"/><rect x="1235.4" y="850.75" width="17.35" height="17.35" fill="#c72526"/><rect x="1252.35" y="850.75" width="17.35" height="17.35" fill="#db6161"/><rect x="1269.3" y="850.75" width="17.35" height="17.35" fill="#f7f8fc"/><rect x="1286.25" y="850.75" width="17.35" height="17.35" fill="#ececf6"/><rect x="1303.2" y="850.75" width="17.35" height="17.35" fill="#f4dbdb"/><rect x="1320.15" y="850.75" width="17.35" height="17.35" fill="#ececf6"/><rect x="1337.1" y="850.75" width="17.35" height="17.35" fill="#bcbee2"/><rect x="1354.05" y="850.75" width="17.35" height="17.35" fill="#f7e4e4"/><rect x="1371" y="850.75" width="17.35" height="17.35" fill="#e6a4a4"/><rect x="1387.95" y="850.75" width="17.35" height="17.35" fill="#d8daee"/><rect x="1404.9" y="850.75" width="17.35" height="17.35" fill="#7479c2"/><rect x="1421.85" y="850.75" width="17.35" height="17.35" fill="#fbf2f2"/><rect x="1455.75" y="850.75" width="17.35" height="17.35" fill="#efc9c9"/><rect x="1472.7" y="850.75" width="17.35" height="17.35" fill="#e9b2b2"/><rect x="1489.65" y="850.75" width="17.35" height="17.35" fill="#5a63b7"/><rect x="1506.6" y="850.75" width="17.35" height="17.35" fill="#434fae"/><rect x="1523.55" y="850.75" width="17.35" height="17.35" fill="#3b45a8"/><rect x="1540.5" y="850.75" width="17.35" height="17.35" fill="#666cbb"/><rect x="1557.45" y="850.75" width="17.35" height="17.35" fill="#9194cf"/><rect x="1574.4" y="850.75" width="17.35" height="17.35" fill="#c2c4e4"/><rect x="1591.35" y="850.75" width="17.35" height="17.35" fill="#e08181"/><rect x="1608.3" y="850.75" width="17.35" height="17.35" fill="#7479c2"/><rect x="1184.55" y="867.7" width="17.35" height="17.35" fill="#d42828"/><rect x="1201.5" y="867.7" width="17.35" height="17.35" fill="#a01c1e"/><rect x="1218.45" y="867.7" width="17.35" height="17.35" fill="#c72526"/><rect x="1235.4" y="867.7" width="17.35" height="17.35" fill="#c72526"/><rect x="1252.35" y="867.7" width="17.35" height="17.35" fill="#db6161"/><rect x="1269.3" y="867.7" width="17.35" height="17.35" fill="#f7f8fc"/><rect x="1286.25" y="867.7" width="17.35" height="17.35" fill="#ececf6"/><rect x="1303.2" y="867.7" width="17.35" height="17.35" fill="#f1d2d2"/><rect x="1337.1" y="867.7" width="17.35" height="17.35" fill="#e0e1f1"/><rect x="1354.05" y="867.7" width="17.35" height="17.35" fill="#e6a4a4"/><rect x="1371" y="867.7" width="17.35" height="17.35" fill="#d42828"/><rect x="1387.95" y="867.7" width="17.35" height="17.35" fill="#d8daee"/><rect x="1404.9" y="867.7" width="17.35" height="17.35" fill="#4e5ab3"/><rect x="1438.8" y="867.7" width="17.35" height="17.35" fill="#efc9c9"/><rect x="1472.7" y="867.7" width="17.35" height="17.35" fill="#93191b"/><rect x="1489.65" y="867.7" width="17.35" height="17.35" fill="#a0a2d6"/><rect x="1506.6" y="867.7" width="17.35" height="17.35" fill="#4e5ab3"/><rect x="1523.55" y="867.7" width="17.35" height="17.35" fill="#434fae"/><rect x="1540.5" y="867.7" width="17.35" height="17.35" fill="#7479c2"/><rect x="1557.45" y="867.7" width="17.35" height="17.35" fill="#a0a2d6"/><rect x="1574.4" y="867.7" width="17.35" height="17.35" fill="#aeb0dc"/><rect x="1591.35" y="867.7" width="17.35" height="17.35" fill="#d84a4a"/><rect x="1608.3" y="867.7" width="17.35" height="17.35" fill="#5a63b7"/><rect x="1625.25" y="867.7" width="17.35" height="17.35" fill="#e0e1f1"/><rect x="1184.55" y="884.65" width="17.35" height="17.35" fill="#d42828"/><rect x="1201.5" y="884.65" width="17.35" height="17.35" fill="#a01c1e"/><rect x="1218.45" y="884.65" width="17.35" height="17.35" fill="#c72526"/><rect x="1235.4" y="884.65" width="17.35" height="17.35" fill="#c72526"/><rect x="1252.35" y="884.65" width="17.35" height="17.35" fill="#d63939"/><rect x="1269.3" y="884.65" width="17.35" height="17.35" fill="#f4dbdb"/><rect x="1286.25" y="884.65" width="17.35" height="17.35" fill="#f5e0e0"/><rect x="1303.2" y="884.65" width="17.35" height="17.35" fill="#de7878"/><rect x="1320.15" y="884.65" width="17.35" height="17.35" fill="#f4dbdb"/><rect x="1337.1" y="884.65" width="17.35" height="17.35" fill="#f8e8e8"/><rect x="1354.05" y="884.65" width="17.35" height="17.35" fill="#db6161"/><rect x="1371" y="884.65" width="17.35" height="17.35" fill="#d42828"/><rect x="1387.95" y="884.65" width="17.35" height="17.35" fill="#cacce8"/><rect x="1404.9" y="884.65" width="17.35" height="17.35" fill="#4e5ab3"/><rect x="1421.85" y="884.65" width="17.35" height="17.35" fill="#fbfbfd"/><rect x="1438.8" y="884.65" width="17.35" height="17.35" fill="#e9b2b2"/><rect x="1455.75" y="884.65" width="17.35" height="17.35" fill="#93191b"/><rect x="1489.65" y="884.65" width="17.35" height="17.35" fill="#e0e1f1"/><rect x="1506.6" y="884.65" width="17.35" height="17.35" fill="#666cbb"/><rect x="1523.55" y="884.65" width="17.35" height="17.35" fill="#666cbb"/><rect x="1540.5" y="884.65" width="17.35" height="17.35" fill="#cacce8"/><rect x="1557.45" y="884.65" width="17.35" height="17.35" fill="#b4b6de"/><rect x="1574.4" y="884.65" width="17.35" height="17.35" fill="#e0e1f1"/><rect x="1591.35" y="884.65" width="17.35" height="17.35" fill="#d42828"/><rect x="1608.3" y="884.65" width="17.35" height="17.35" fill="#666cbb"/><rect x="1625.25" y="884.65" width="17.35" height="17.35" fill="#d8daee"/><rect x="1184.55" y="901.6" width="17.35" height="17.35" fill="#d42828"/><rect x="1201.5" y="901.6" width="17.35" height="17.35" fill="#a01c1e"/><rect x="1218.45" y="901.6" width="17.35" height="17.35" fill="#ac1f21"/><rect x="1235.4" y="901.6" width="17.35" height="17.35" fill="#ac1f21"/><rect x="1252.35" y="901.6" width="17.35" height="17.35" fill="#ac1f21"/><rect x="1269.3" y="901.6" width="17.35" height="17.35" fill="#d42828"/><rect x="1286.25" y="901.6" width="17.35" height="17.35" fill="#d63939"/><rect x="1303.2" y="901.6" width="17.35" height="17.35" fill="#b92223"/><rect x="1320.15" y="901.6" width="17.35" height="17.35" fill="#d42828"/><rect x="1337.1" y="901.6" width="17.35" height="17.35" fill="#db6161"/><rect x="1354.05" y="901.6" width="17.35" height="17.35" fill="#d42828"/><rect x="1371" y="901.6" width="17.35" height="17.35" fill="#d42828"/><rect x="1387.95" y="901.6" width="17.35" height="17.35" fill="#f8e8e8"/><rect x="1404.9" y="901.6" width="17.35" height="17.35" fill="#7479c2"/><rect x="1421.85" y="901.6" width="17.35" height="17.35" fill="#a0a2d6"/><rect x="1438.8" y="901.6" width="17.35" height="17.35" fill="#5a63b7"/><rect x="1455.75" y="901.6" width="17.35" height="17.35" fill="#a0a2d6"/><rect x="1472.7" y="901.6" width="17.35" height="17.35" fill="#e0e1f1"/><rect x="1506.6" y="901.6" width="17.35" height="17.35" fill="#fbf2f2"/><rect x="1523.55" y="901.6" width="17.35" height="17.35" fill="#9194cf"/><rect x="1540.5" y="901.6" width="17.35" height="17.35" fill="#efc9c9"/><rect x="1557.45" y="901.6" width="17.35" height="17.35" fill="#efc9c9"/><rect x="1574.4" y="901.6" width="17.35" height="17.35" fill="#f4dbdb"/><rect x="1591.35" y="901.6" width="17.35" height="17.35" fill="#b92223"/><rect x="1608.3" y="901.6" width="17.35" height="17.35" fill="#a0a2d6"/><rect x="1625.25" y="901.6" width="17.35" height="17.35" fill="#e49797"/><rect x="1184.55" y="918.55" width="17.35" height="17.35" fill="#d42828"/><rect x="1201.5" y="918.55" width="17.35" height="17.35" fill="#b92223"/><rect x="1218.45" y="918.55" width="17.35" height="17.35" fill="#d42828"/><rect x="1235.4" y="918.55" width="17.35" height="17.35" fill="#c72526"/><rect x="1252.35" y="918.55" width="17.35" height="17.35" fill="#d42828"/><rect x="1269.3" y="918.55" width="17.35" height="17.35" fill="#d84a4a"/><rect x="1286.25" y="918.55" width="17.35" height="17.35" fill="#ecbbbb"/><rect x="1303.2" y="918.55" width="17.35" height="17.35" fill="#c72526"/><rect x="1320.15" y="918.55" width="17.35" height="17.35" fill="#db6161"/><rect x="1337.1" y="918.55" width="17.35" height="17.35" fill="#e28e8e"/><rect x="1354.05" y="918.55" width="17.35" height="17.35" fill="#d84a4a"/><rect x="1371" y="918.55" width="17.35" height="17.35" fill="#dc6a6a"/><rect x="1387.95" y="918.55" width="17.35" height="17.35" fill="#666cbb"/><rect x="1404.9" y="918.55" width="17.35" height="17.35" fill="#434fae"/><rect x="1421.85" y="918.55" width="17.35" height="17.35" fill="#4e5ab3"/><rect x="1438.8" y="918.55" width="17.35" height="17.35" fill="#434fae"/><rect x="1455.75" y="918.55" width="17.35" height="17.35" fill="#4e5ab3"/><rect x="1472.7" y="918.55" width="17.35" height="17.35" fill="#666cbb"/><rect x="1489.65" y="918.55" width="17.35" height="17.35" fill="#fbf2f2"/><rect x="1523.55" y="918.55" width="17.35" height="17.35" fill="#cacce8"/><rect x="1540.5" y="918.55" width="17.35" height="17.35" fill="#e49797"/><rect x="1557.45" y="918.55" width="17.35" height="17.35" fill="#f4dbdb"/><rect x="1591.35" y="918.55" width="17.35" height="17.35" fill="#d42828"/><rect x="1608.3" y="918.55" width="17.35" height="17.35" fill="#5a63b7"/><rect x="1625.25" y="918.55" width="17.35" height="17.35" fill="#e8e9f5"/><rect x="1184.55" y="935.5" width="17.35" height="17.35" fill="#db6161"/><rect x="1201.5" y="935.5" width="17.35" height="17.35" fill="#d42828"/><rect x="1218.45" y="935.5" width="17.35" height="17.35" fill="#d84a4a"/><rect x="1235.4" y="935.5" width="17.35" height="17.35" fill="#d42828"/><rect x="1252.35" y="935.5" width="17.35" height="17.35" fill="#d42828"/><rect x="1269.3" y="935.5" width="17.35" height="17.35" fill="#d63939"/><rect x="1286.25" y="935.5" width="17.35" height="17.35" fill="#d63939"/><rect x="1303.2" y="935.5" width="17.35" height="17.35" fill="#c72526"/><rect x="1320.15" y="935.5" width="17.35" height="17.35" fill="#d63939"/><rect x="1337.1" y="935.5" width="17.35" height="17.35" fill="#db6161"/><rect x="1354.05" y="935.5" width="17.35" height="17.35" fill="#de7878"/><rect x="1371" y="935.5" width="17.35" height="17.35" fill="#e08181"/><rect x="1387.95" y="935.5" width="17.35" height="17.35" fill="#666cbb"/><rect x="1404.9" y="935.5" width="17.35" height="17.35" fill="#434fae"/><rect x="1421.85" y="935.5" width="17.35" height="17.35" fill="#434fae"/><rect x="1438.8" y="935.5" width="17.35" height="17.35" fill="#3b45a8"/><rect x="1455.75" y="935.5" width="17.35" height="17.35" fill="#434fae"/><rect x="1472.7" y="935.5" width="17.35" height="17.35" fill="#666cbb"/><rect x="1489.65" y="935.5" width="17.35" height="17.35" fill="#9194cf"/><rect x="1506.6" y="935.5" width="17.35" height="17.35" fill="#cacce8"/><rect x="1540.5" y="935.5" width="17.35" height="17.35" fill="#cacce8"/><rect x="1557.45" y="935.5" width="17.35" height="17.35" fill="#8286c8"/><rect x="1574.4" y="935.5" width="17.35" height="17.35" fill="#aeb0dc"/><rect x="1591.35" y="935.5" width="17.35" height="17.35" fill="#db6161"/><rect x="1608.3" y="935.5" width="17.35" height="17.35" fill="#4e5ab3"/><rect x="1625.25" y="935.5" width="17.35" height="17.35" fill="#e8e9f5"/><rect x="1184.55" y="952.45" width="17.35" height="17.35" fill="#e28e8e"/><rect x="1201.5" y="952.45" width="17.35" height="17.35" fill="#db6161"/><rect x="1218.45" y="952.45" width="17.35" height="17.35" fill="#e9b2b2"/><rect x="1235.4" y="952.45" width="17.35" height="17.35" fill="#e28e8e"/><rect x="1252.35" y="952.45" width="17.35" height="17.35" fill="#de7878"/><rect x="1269.3" y="952.45" width="17.35" height="17.35" fill="#db6161"/><rect x="1286.25" y="952.45" width="17.35" height="17.35" fill="#f4dbdb"/><rect x="1303.2" y="952.45" width="17.35" height="17.35" fill="#d63939"/><rect x="1320.15" y="952.45" width="17.35" height="17.35" fill="#e28e8e"/><rect x="1337.1" y="952.45" width="17.35" height="17.35" fill="#f1d2d2"/><rect x="1354.05" y="952.45" width="17.35" height="17.35" fill="#d95353"/><rect x="1371" y="952.45" width="17.35" height="17.35" fill="#e08181"/><rect x="1387.95" y="952.45" width="17.35" height="17.35" fill="#7479c2"/><rect x="1404.9" y="952.45" width="17.35" height="17.35" fill="#4e5ab3"/><rect x="1421.85" y="952.45" width="17.35" height="17.35" fill="#8286c8"/><rect x="1438.8" y="952.45" width="17.35" height="17.35" fill="#666cbb"/><rect x="1455.75" y="952.45" width="17.35" height="17.35" fill="#7479c2"/><rect x="1472.7" y="952.45" width="17.35" height="17.35" fill="#cacce8"/><rect x="1489.65" y="952.45" width="17.35" height="17.35" fill="#efc9c9"/><rect x="1506.6" y="952.45" width="17.35" height="17.35" fill="#e49797"/><rect x="1523.55" y="952.45" width="17.35" height="17.35" fill="#cacce8"/><rect x="1557.45" y="952.45" width="17.35" height="17.35" fill="#db6161"/><rect x="1574.4" y="952.45" width="17.35" height="17.35" fill="#e28e8e"/><rect x="1591.35" y="952.45" width="17.35" height="17.35" fill="#d63939"/><rect x="1608.3" y="952.45" width="17.35" height="17.35" fill="#8286c8"/><rect x="1625.25" y="952.45" width="17.35" height="17.35" fill="#f4dbdb"/><rect x="1184.55" y="969.4" width="17.35" height="17.35" fill="#de7878"/><rect x="1201.5" y="969.4" width="17.35" height="17.35" fill="#db6161"/><rect x="1218.45" y="969.4" width="17.35" height="17.35" fill="#f1d2d2"/><rect x="1235.4" y="969.4" width="17.35" height="17.35" fill="#e49797"/><rect x="1252.35" y="969.4" width="17.35" height="17.35" fill="#de7878"/><rect x="1269.3" y="969.4" width="17.35" height="17.35" fill="#d84a4a"/><rect x="1286.25" y="969.4" width="17.35" height="17.35" fill="#eec4c4"/><rect x="1303.2" y="969.4" width="17.35" height="17.35" fill="#db6161"/><rect x="1320.15" y="969.4" width="17.35" height="17.35" fill="#ecbbbb"/><rect x="1337.1" y="969.4" width="17.35" height="17.35" fill="#e9b2b2"/><rect x="1354.05" y="969.4" width="17.35" height="17.35" fill="#de7878"/><rect x="1371" y="969.4" width="17.35" height="17.35" fill="#e08181"/><rect x="1387.95" y="969.4" width="17.35" height="17.35" fill="#8286c8"/><rect x="1404.9" y="969.4" width="17.35" height="17.35" fill="#4e5ab3"/><rect x="1421.85" y="969.4" width="17.35" height="17.35" fill="#a0a2d6"/><rect x="1438.8" y="969.4" width="17.35" height="17.35" fill="#9194cf"/><rect x="1455.75" y="969.4" width="17.35" height="17.35" fill="#a0a2d6"/><rect x="1472.7" y="969.4" width="17.35" height="17.35" fill="#b4b6de"/><rect x="1489.65" y="969.4" width="17.35" height="17.35" fill="#efc9c9"/><rect x="1506.6" y="969.4" width="17.35" height="17.35" fill="#f4dbdb"/><rect x="1523.55" y="969.4" width="17.35" height="17.35" fill="#8286c8"/><rect x="1540.5" y="969.4" width="17.35" height="17.35" fill="#db6161"/><rect x="1574.4" y="969.4" width="17.35" height="17.35" fill="#c72526"/><rect x="1591.35" y="969.4" width="17.35" height="17.35" fill="#b92223"/><rect x="1608.3" y="969.4" width="17.35" height="17.35" fill="#bcbee2"/><rect x="1625.25" y="969.4" width="17.35" height="17.35" fill="#e28e8e"/><rect x="1184.55" y="986.35" width="17.35" height="17.35" fill="#e49797"/><rect x="1201.5" y="986.35" width="17.35" height="17.35" fill="#e28e8e"/><rect x="1218.45" y="986.35" width="17.35" height="17.35" fill="#f4dbdb"/><rect x="1235.4" y="986.35" width="17.35" height="17.35" fill="#e49797"/><rect x="1252.35" y="986.35" width="17.35" height="17.35" fill="#de7878"/><rect x="1269.3" y="986.35" width="17.35" height="17.35" fill="#de7878"/><rect x="1286.25" y="986.35" width="17.35" height="17.35" fill="#e49797"/><rect x="1303.2" y="986.35" width="17.35" height="17.35" fill="#db6161"/><rect x="1320.15" y="986.35" width="17.35" height="17.35" fill="#e28e8e"/><rect x="1337.1" y="986.35" width="17.35" height="17.35" fill="#dc6a6a"/><rect x="1354.05" y="986.35" width="17.35" height="17.35" fill="#d95353"/><rect x="1371" y="986.35" width="17.35" height="17.35" fill="#e08181"/><rect x="1387.95" y="986.35" width="17.35" height="17.35" fill="#8286c8"/><rect x="1404.9" y="986.35" width="17.35" height="17.35" fill="#5a63b7"/><rect x="1421.85" y="986.35" width="17.35" height="17.35" fill="#c2c4e4"/><rect x="1438.8" y="986.35" width="17.35" height="17.35" fill="#c2c4e4"/><rect x="1455.75" y="986.35" width="17.35" height="17.35" fill="#aeb0dc"/><rect x="1472.7" y="986.35" width="17.35" height="17.35" fill="#e0e1f1"/><rect x="1489.65" y="986.35" width="17.35" height="17.35" fill="#f4dbdb"/><rect x="1523.55" y="986.35" width="17.35" height="17.35" fill="#aeb0dc"/><rect x="1540.5" y="986.35" width="17.35" height="17.35" fill="#e28e8e"/><rect x="1557.45" y="986.35" width="17.35" height="17.35" fill="#c72526"/><rect x="1591.35" y="986.35" width="17.35" height="17.35" fill="#871618"/><rect x="1608.3" y="986.35" width="17.35" height="17.35" fill="#e0e1f1"/><rect x="1625.25" y="986.35" width="17.35" height="17.35" fill="#d84a4a"/><rect x="1184.55" y="1003.3" width="17.35" height="17.35" fill="#de7878"/><rect x="1201.5" y="1003.3" width="17.35" height="17.35" fill="#d63939"/><rect x="1218.45" y="1003.3" width="17.35" height="17.35" fill="#e28e8e"/><rect x="1235.4" y="1003.3" width="17.35" height="17.35" fill="#de7878"/><rect x="1252.35" y="1003.3" width="17.35" height="17.35" fill="#dc6a6a"/><rect x="1269.3" y="1003.3" width="17.35" height="17.35" fill="#d74040"/><rect x="1286.25" y="1003.3" width="17.35" height="17.35" fill="#db6161"/><rect x="1303.2" y="1003.3" width="17.35" height="17.35" fill="#d42828"/><rect x="1320.15" y="1003.3" width="17.35" height="17.35" fill="#d42828"/><rect x="1337.1" y="1003.3" width="17.35" height="17.35" fill="#d63939"/><rect x="1354.05" y="1003.3" width="17.35" height="17.35" fill="#c72526"/><rect x="1371" y="1003.3" width="17.35" height="17.35" fill="#d42828"/><rect x="1387.95" y="1003.3" width="17.35" height="17.35" fill="#f1d2d2"/><rect x="1404.9" y="1003.3" width="17.35" height="17.35" fill="#ececf6"/><rect x="1421.85" y="1003.3" width="17.35" height="17.35" fill="#db6161"/><rect x="1438.8" y="1003.3" width="17.35" height="17.35" fill="#e08181"/><rect x="1455.75" y="1003.3" width="17.35" height="17.35" fill="#d84a4a"/><rect x="1472.7" y="1003.3" width="17.35" height="17.35" fill="#d42828"/><rect x="1489.65" y="1003.3" width="17.35" height="17.35" fill="#b92223"/><rect x="1506.6" y="1003.3" width="17.35" height="17.35" fill="#d42828"/><rect x="1523.55" y="1003.3" width="17.35" height="17.35" fill="#db6161"/><rect x="1540.5" y="1003.3" width="17.35" height="17.35" fill="#d63939"/><rect x="1557.45" y="1003.3" width="17.35" height="17.35" fill="#b92223"/><rect x="1574.4" y="1003.3" width="17.35" height="17.35" fill="#871618"/><rect x="1608.3" y="1003.3" width="17.35" height="17.35" fill="#ac1f21"/><rect x="1625.25" y="1003.3" width="17.35" height="17.35" fill="#701213"/><rect x="1184.55" y="1020.25" width="17.35" height="17.35" fill="#f8e8e8"/><rect x="1201.5" y="1020.25" width="17.35" height="17.35" fill="#f4dbdb"/><rect x="1218.45" y="1020.25" width="17.35" height="17.35" fill="#cacce8"/><rect x="1235.4" y="1020.25" width="17.35" height="17.35" fill="#d8daee"/><rect x="1252.35" y="1020.25" width="17.35" height="17.35" fill="#bcbee2"/><rect x="1269.3" y="1020.25" width="17.35" height="17.35" fill="#ececf6"/><rect x="1320.15" y="1020.25" width="17.35" height="17.35" fill="#e4e5f3"/><rect x="1337.1" y="1020.25" width="17.35" height="17.35" fill="#e0e1f1"/><rect x="1354.05" y="1020.25" width="17.35" height="17.35" fill="#d8daee"/><rect x="1371" y="1020.25" width="17.35" height="17.35" fill="#ececf6"/><rect x="1387.95" y="1020.25" width="17.35" height="17.35" fill="#8286c8"/><rect x="1404.9" y="1020.25" width="17.35" height="17.35" fill="#5a63b7"/><rect x="1421.85" y="1020.25" width="17.35" height="17.35" fill="#a0a2d6"/><rect x="1438.8" y="1020.25" width="17.35" height="17.35" fill="#7479c2"/><rect x="1455.75" y="1020.25" width="17.35" height="17.35" fill="#5a63b7"/><rect x="1472.7" y="1020.25" width="17.35" height="17.35" fill="#666cbb"/><rect x="1489.65" y="1020.25" width="17.35" height="17.35" fill="#a0a2d6"/><rect x="1506.6" y="1020.25" width="17.35" height="17.35" fill="#5a63b7"/><rect x="1523.55" y="1020.25" width="17.35" height="17.35" fill="#4e5ab3"/><rect x="1540.5" y="1020.25" width="17.35" height="17.35" fill="#8286c8"/><rect x="1557.45" y="1020.25" width="17.35" height="17.35" fill="#bcbee2"/><rect x="1574.4" y="1020.25" width="17.35" height="17.35" fill="#e0e1f1"/><rect x="1591.35" y="1020.25" width="17.35" height="17.35" fill="#ac1f21"/><rect x="1625.25" y="1020.25" width="17.35" height="17.35" fill="#701213"/><rect x="1184.55" y="1037.2" width="17.35" height="17.35" fill="#d8daee"/><rect x="1201.5" y="1037.2" width="17.35" height="17.35" fill="#f7e4e4"/><rect x="1252.35" y="1037.2" width="17.35" height="17.35" fill="#f7f8fc"/><rect x="1269.3" y="1037.2" width="17.35" height="17.35" fill="#f3f4fa"/><rect x="1303.2" y="1037.2" width="17.35" height="17.35" fill="#fbf2f2"/><rect x="1320.15" y="1037.2" width="17.35" height="17.35" fill="#e4e5f3"/><rect x="1354.05" y="1037.2" width="17.35" height="17.35" fill="#f4dbdb"/><rect x="1371" y="1037.2" width="17.35" height="17.35" fill="#fbf2f2"/><rect x="1387.95" y="1037.2" width="17.35" height="17.35" fill="#cacce8"/><rect x="1404.9" y="1037.2" width="17.35" height="17.35" fill="#8286c8"/><rect x="1421.85" y="1037.2" width="17.35" height="17.35" fill="#f1d2d2"/><rect x="1455.75" y="1037.2" width="17.35" height="17.35" fill="#e0e1f1"/><rect x="1472.7" y="1037.2" width="17.35" height="17.35" fill="#d8daee"/><rect x="1489.65" y="1037.2" width="17.35" height="17.35" fill="#e49797"/><rect x="1506.6" y="1037.2" width="17.35" height="17.35" fill="#e8e9f5"/><rect x="1523.55" y="1037.2" width="17.35" height="17.35" fill="#e8e9f5"/><rect x="1540.5" y="1037.2" width="17.35" height="17.35" fill="#f4dbdb"/><rect x="1557.45" y="1037.2" width="17.35" height="17.35" fill="#e28e8e"/><rect x="1574.4" y="1037.2" width="17.35" height="17.35" fill="#d84a4a"/><rect x="1591.35" y="1037.2" width="17.35" height="17.35" fill="#701213"/><rect x="1608.3" y="1037.2" width="17.35" height="17.35" fill="#701213"/></g>
<rect x="1184.55" y="596.5" width="457.65" height="457.65" fill="none" stroke="#1a1a1a" stroke-width="3.2"/>
<line x1="1260.83" y1="596.5" x2="1260.83" y2="602" stroke="#1a1a1a" stroke-width="3.2"/>
<line x1="1260.83" y1="1054.15" x2="1260.83" y2="1048.65" stroke="#1a1a1a" stroke-width="3.2"/>
<line x1="1184.55" y1="672.77" x2="1190.05" y2="672.77" stroke="#1a1a1a" stroke-width="3.2"/>
<line x1="1642.2" y1="672.77" x2="1636.7" y2="672.77" stroke="#1a1a1a" stroke-width="3.2"/>
<text x="1261.83" y="1082.7" text-anchor="middle">5</text>
<text x="1180" y="680.27" text-anchor="end">5</text>
<line x1="1345.58" y1="596.5" x2="1345.58" y2="602" stroke="#1a1a1a" stroke-width="3.2"/>
<line x1="1345.58" y1="1054.15" x2="1345.58" y2="1048.65" stroke="#1a1a1a" stroke-width="3.2"/>
<line x1="1184.55" y1="757.52" x2="1190.05" y2="757.52" stroke="#1a1a1a" stroke-width="3.2"/>
<line x1="1642.2" y1="757.52" x2="1636.7" y2="757.52" stroke="#1a1a1a" stroke-width="3.2"/>
<text x="1348.08" y="1082.7" text-anchor="middle">10</text>
<text x="1180" y="765.02" text-anchor="end">10</text>
<line x1="1430.32" y1="596.5" x2="1430.32" y2="602" stroke="#1a1a1a" stroke-width="3.2"/>
<line x1="1430.32" y1="1054.15" x2="1430.32" y2="1048.65" stroke="#1a1a1a" stroke-width="3.2"/>
<line x1="1184.55" y1="842.27" x2="1190.05" y2="842.27" stroke="#1a1a1a" stroke-width="3.2"/>
<line x1="1642.2" y1="842.27" x2="1636.7" y2="842.27" stroke="#1a1a1a" stroke-width="3.2"/>
<text x="1432.82" y="1082.7" text-anchor="middle">15</text>
<text x="1180" y="849.77" text-anchor="end">15</text>
<line x1="1515.07" y1="596.5" x2="1515.07" y2="602" stroke="#1a1a1a" stroke-width="3.2"/>
<line x1="1515.07" y1="1054.15" x2="1515.07" y2="1048.65" stroke="#1a1a1a" stroke-width="3.2"/>
<line x1="1184.55" y1="927.02" x2="1190.05" y2="927.02" stroke="#1a1a1a" stroke-width="3.2"/>
<line x1="1642.2" y1="927.02" x2="1636.7" y2="927.02" stroke="#1a1a1a" stroke-width="3.2"/>
<text x="1517.57" y="1082.7" text-anchor="middle">20</text>
<text x="1180" y="934.52" text-anchor="end">20</text>
<line x1="1599.82" y1="596.5" x2="1599.82" y2="602" stroke="#1a1a1a" stroke-width="3.2"/>
<line x1="1599.82" y1="1054.15" x2="1599.82" y2="1048.65" stroke="#1a1a1a" stroke-width="3.2"/>
<line x1="1184.55" y1="1011.77" x2="1190.05" y2="1011.77" stroke="#1a1a1a" stroke-width="3.2"/>
<line x1="1642.2" y1="1011.77" x2="1636.7" y2="1011.77" stroke="#1a1a1a" stroke-width="3.2"/>
<text x="1602.32" y="1082.7" text-anchor="middle">25</text>
<text x="1180" y="1019.27" text-anchor="end">25</text>
<text x="1435.5" y="1110.5" text-anchor="middle">TAD id</text>
<text transform="translate(1145.5 820) rotate(-90)" text-anchor="middle">TAD id</text>
<text x="1405" y="579.5" text-anchor="middle">CHD7 OE / GFP OE</text>
<defs><linearGradient id="cb" x1="0" y1="0" x2="0" y2="1"><stop offset="0" stop-color="#2d2a69"/><stop offset="0.03" stop-color="#2f2d73"/><stop offset="0.05" stop-color="#322f7d"/><stop offset="0.07" stop-color="#343287"/><stop offset="0.1" stop-color="#363792"/><stop offset="0.12" stop-color="#383c9e"/><stop offset="0.15" stop-color="#3940a1"/><stop offset="0.17" stop-color="#3b44a5"/><stop offset="0.2" stop-color="#3c48a8"/><stop offset="0.23" stop-color="#3f4daa"/><stop offset="0.25" stop-color="#4252ac"/><stop offset="0.28" stop-color="#4e5bb2"/><stop offset="0.3" stop-color="#5a64b8"/><stop offset="0.33" stop-color="#6970bf"/><stop offset="0.35" stop-color="#787cc6"/><stop offset="0.38" stop-color="#8c8fcf"/><stop offset="0.4" stop-color="#a0a2d8"/><stop offset="0.42" stop-color="#b9bbe2"/><stop offset="0.45" stop-color="#d2d4ec"/><stop offset="0.47" stop-color="#e8eaf6"/><stop offset="0.5" stop-color="#ffffff"/><stop offset="0.53" stop-color="#f8ebeb"/><stop offset="0.55" stop-color="#f2d7d7"/><stop offset="0.57" stop-color="#ecc0c0"/><stop offset="0.6" stop-color="#e6a8aa"/><stop offset="0.62" stop-color="#e18e90"/><stop offset="0.65" stop-color="#dc7376"/><stop offset="0.68" stop-color="#d85254"/><stop offset="0.7" stop-color="#d43232"/><stop offset="0.72" stop-color="#ce2b2b"/><stop offset="0.75" stop-color="#c82424"/><stop offset="0.78" stop-color="#bc2121"/><stop offset="0.8" stop-color="#b01e1e"/><stop offset="0.82" stop-color="#a41c1c"/><stop offset="0.85" stop-color="#981919"/><stop offset="0.88" stop-color="#8e1818"/><stop offset="0.9" stop-color="#841616"/><stop offset="0.93" stop-color="#7f1515"/><stop offset="0.95" stop-color="#7a1414"/><stop offset="0.97" stop-color="#751313"/><stop offset="1" stop-color="#701212"/></linearGradient></defs>
<rect x="1654.6" y="596.5" width="30.4" height="457.65" fill="url(#cb)" stroke="#1a1a1a" stroke-width="3.2"/>
<line x1="1679.5" y1="596.5" x2="1685" y2="596.5" stroke="#1a1a1a" stroke-width="3.2"/>
<text x="1692" y="606.4">0.2</text>
<line x1="1679.5" y1="710.91" x2="1685" y2="710.91" stroke="#1a1a1a" stroke-width="3.2"/>
<text x="1692" y="720.81">0.1</text>
<line x1="1679.5" y1="825.33" x2="1685" y2="825.33" stroke="#1a1a1a" stroke-width="3.2"/>
<text x="1692" y="835.23">0</text>
<line x1="1679.5" y1="939.74" x2="1685" y2="939.74" stroke="#1a1a1a" stroke-width="3.2"/>
<text x="1692" y="949.64">-0.1</text>
<line x1="1679.5" y1="1054.15" x2="1685" y2="1054.15" stroke="#1a1a1a" stroke-width="3.2"/>
<text x="1692" y="1067.05">-0.2</text>
<text transform="translate(1750.6 815.5) rotate(90)" text-anchor="middle">Log2fc of overall inter-TAD distance</text>
<text x="0" y="1199.5" font-weight="bold" font-size="36">f</text>
<line x1="129.3" y1="1217.7" x2="129.3" y2="1650.2" stroke="#1a1a1a" stroke-width="3.6"/>
<line x1="127.6" y1="1648.5" x2="416.7" y2="1648.5" stroke="#1a1a1a" stroke-width="3.6"/>
<line x1="111.7" y1="1648.5" x2="129.3" y2="1648.5" stroke="#1a1a1a" stroke-width="3.4"/>
<text x="104" y="1658.4" text-anchor="end">0.8</text>
<line x1="111.7" y1="1576.98" x2="129.3" y2="1576.98" stroke="#1a1a1a" stroke-width="3.4"/>
<text x="104" y="1586.88" text-anchor="end">1.0</text>
<line x1="111.7" y1="1505.47" x2="129.3" y2="1505.47" stroke="#1a1a1a" stroke-width="3.4"/>
<text x="104" y="1515.37" text-anchor="end">1.2</text>
<line x1="111.7" y1="1433.95" x2="129.3" y2="1433.95" stroke="#1a1a1a" stroke-width="3.4"/>
<text x="104" y="1443.85" text-anchor="end">1.4</text>
<line x1="111.7" y1="1362.43" x2="129.3" y2="1362.43" stroke="#1a1a1a" stroke-width="3.4"/>
<text x="104" y="1372.33" text-anchor="end">1.6</text>
<line x1="111.7" y1="1290.92" x2="129.3" y2="1290.92" stroke="#1a1a1a" stroke-width="3.4"/>
<text x="104" y="1300.82" text-anchor="end">1.8</text>
<line x1="111.7" y1="1219.4" x2="129.3" y2="1219.4" stroke="#1a1a1a" stroke-width="3.4"/>
<text x="104" y="1229.3" text-anchor="end">2.0</text>
<line x1="210.7" y1="1648.5" x2="210.7" y2="1666" stroke="#1a1a1a" stroke-width="3.4"/>
<line x1="333.7" y1="1648.5" x2="333.7" y2="1666" stroke="#1a1a1a" stroke-width="3.4"/>
<line x1="211.1" y1="1275.3" x2="211.1" y2="1317.6" stroke="#1a1a1a" stroke-width="3.7"/>
<line x1="211.1" y1="1469.71" x2="211.1" y2="1582.35" stroke="#1a1a1a" stroke-width="3.7"/>
<line x1="190.6" y1="1275.3" x2="231.6" y2="1275.3" stroke="#1a1a1a" stroke-width="3.7"/>
<line x1="190.6" y1="1582.35" x2="231.6" y2="1582.35" stroke="#1a1a1a" stroke-width="3.7"/>
<rect x="173.8" y="1317.6" width="74.6" height="152.11" fill="none" stroke="#1a1a1a" stroke-width="3.7"/>
<line x1="171.8" y1="1377.09" x2="250.4" y2="1377.09" stroke="#1a1a1a" stroke-width="3.7" stroke-linecap="round"/>
<line x1="333.7" y1="1283.4" x2="333.7" y2="1331.2" stroke="#1a1a1a" stroke-width="3.7"/>
<line x1="333.7" y1="1474.36" x2="333.7" y2="1600.23" stroke="#1a1a1a" stroke-width="3.7"/>
<line x1="313.2" y1="1283.4" x2="354.2" y2="1283.4" stroke="#1a1a1a" stroke-width="3.7"/>
<line x1="313.2" y1="1600.23" x2="354.2" y2="1600.23" stroke="#1a1a1a" stroke-width="3.7"/>
<rect x="293.1" y="1331.2" width="81.2" height="143.16" fill="#e69537"/>
<rect x="296.5" y="1334.6" width="74.4" height="136.36" fill="none" stroke="#1a1a1a" stroke-width="3.7"/>
<line x1="294.5" y1="1389.97" x2="372.9" y2="1389.97" stroke="#1a1a1a" stroke-width="3.7" stroke-linecap="round"/>
<text x="272" y="1255" text-anchor="middle">p = 1.4e-18</text>
<text x="213.5" y="1696.6" text-anchor="middle">GFP</text>
<text x="334.5" y="1696.6" text-anchor="middle">CHD7</text>
<text transform="translate(55 1434.6) rotate(-90)" text-anchor="middle">Overall inter-TAD distance / µm</text>
<text x="441" y="1200" font-weight="bold" font-size="36">g</text>
<line x1="531.1" y1="1221.2" x2="531.1" y2="1649.6" stroke="#1a1a1a" stroke-width="3.6"/>
<line x1="529.4" y1="1647.9" x2="816.9" y2="1647.9" stroke="#1a1a1a" stroke-width="3.6"/>
<line x1="513" y1="1647.9" x2="531.1" y2="1647.9" stroke="#1a1a1a" stroke-width="3.4"/>
<text x="510.5" y="1657.8" text-anchor="end">0.8</text>
<line x1="513" y1="1541.65" x2="531.1" y2="1541.65" stroke="#1a1a1a" stroke-width="3.4"/>
<text x="510.5" y="1551.55" text-anchor="end">1.0</text>
<line x1="513" y1="1435.4" x2="531.1" y2="1435.4" stroke="#1a1a1a" stroke-width="3.4"/>
<text x="510.5" y="1445.3" text-anchor="end">1.2</text>
<line x1="513" y1="1329.15" x2="531.1" y2="1329.15" stroke="#1a1a1a" stroke-width="3.4"/>
<text x="510.5" y="1339.05" text-anchor="end">1.4</text>
<line x1="513" y1="1222.9" x2="531.1" y2="1222.9" stroke="#1a1a1a" stroke-width="3.4"/>
<text x="510.5" y="1232.8" text-anchor="end">1.6</text>
<line x1="611.6" y1="1647.9" x2="611.6" y2="1666" stroke="#1a1a1a" stroke-width="3.4"/>
<line x1="732.9" y1="1647.9" x2="732.9" y2="1666" stroke="#1a1a1a" stroke-width="3.4"/>
<line x1="612.1" y1="1270.18" x2="612.1" y2="1394.9" stroke="#1a1a1a" stroke-width="3.7"/>
<line x1="612.1" y1="1560.78" x2="612.1" y2="1618.15" stroke="#1a1a1a" stroke-width="3.7"/>
<line x1="592.6" y1="1270.18" x2="631.6" y2="1270.18" stroke="#1a1a1a" stroke-width="3.7"/>
<line x1="592.6" y1="1618.15" x2="631.6" y2="1618.15" stroke="#1a1a1a" stroke-width="3.7"/>
<rect x="575.1" y="1394.9" width="74" height="165.88" fill="none" stroke="#1a1a1a" stroke-width="3.7"/>
<line x1="573.1" y1="1487.4" x2="651.1" y2="1487.4" stroke="#1a1a1a" stroke-width="3.7" stroke-linecap="round"/>
<line x1="733.7" y1="1268.06" x2="733.7" y2="1400.21" stroke="#1a1a1a" stroke-width="3.7"/>
<line x1="733.7" y1="1586.81" x2="733.7" y2="1636.21" stroke="#1a1a1a" stroke-width="3.7"/>
<line x1="714.2" y1="1268.06" x2="753.2" y2="1268.06" stroke="#1a1a1a" stroke-width="3.7"/>
<line x1="714.2" y1="1636.21" x2="753.2" y2="1636.21" stroke="#1a1a1a" stroke-width="3.7"/>
<rect x="693.7" y="1400.21" width="80" height="186.59" fill="#e69537"/>
<rect x="697.1" y="1403.61" width="73.2" height="179.79" fill="none" stroke="#1a1a1a" stroke-width="3.7"/>
<line x1="695.1" y1="1501.21" x2="772.3" y2="1501.21" stroke="#1a1a1a" stroke-width="3.7" stroke-linecap="round"/>
<text x="673.8" y="1254" text-anchor="middle">p = 0.0013</text>
<text x="615" y="1696.3" text-anchor="middle">GFP</text>
<text x="735.2" y="1696.3" text-anchor="middle">CHD7</text>
<text transform="translate(460 1449) rotate(-90)" text-anchor="middle">Radius of gyration / µm</text>
<text x="842" y="1199.5" font-weight="bold" font-size="36">h</text>
<line x1="973.7" y1="1187.65" x2="973.7" y2="1650.2" stroke="#1a1a1a" stroke-width="3.6"/>
<line x1="972" y1="1648.5" x2="1281" y2="1648.5" stroke="#1a1a1a" stroke-width="3.6"/>
<line x1="954.5" y1="1189.35" x2="973.7" y2="1189.35" stroke="#1a1a1a" stroke-width="3.4"/>
<text x="946.5" y="1199.25" text-anchor="end">0.1</text>
<line x1="954.5" y1="1342.4" x2="973.7" y2="1342.4" stroke="#1a1a1a" stroke-width="3.4"/>
<text x="946.5" y="1352.3" text-anchor="end">0.0</text>
<line x1="954.5" y1="1495.45" x2="973.7" y2="1495.45" stroke="#1a1a1a" stroke-width="3.4"/>
<text x="946.5" y="1505.35" text-anchor="end">-0.1</text>
<line x1="954.5" y1="1648.5" x2="973.7" y2="1648.5" stroke="#1a1a1a" stroke-width="3.4"/>
<text x="946.5" y="1658.4" text-anchor="end">-0.2</text>
<line x1="1059.9" y1="1648.5" x2="1059.9" y2="1666" stroke="#1a1a1a" stroke-width="3.4"/>
<line x1="1191.8" y1="1648.5" x2="1191.8" y2="1666" stroke="#1a1a1a" stroke-width="3.4"/>
<line x1="1061" y1="1252.1" x2="1061" y2="1286.1" stroke="#8a3b22" stroke-width="4.1"/>
<line x1="1061" y1="1441.9" x2="1061" y2="1573.51" stroke="#8a3b22" stroke-width="4.1"/>
<line x1="1039.5" y1="1252.1" x2="1082.5" y2="1252.1" stroke="#8a3b22" stroke-width="4.1"/>
<line x1="1039.5" y1="1573.51" x2="1082.5" y2="1573.51" stroke="#8a3b22" stroke-width="4.1"/>
<rect x="1019.5" y="1286.1" width="83" height="155.8" fill="#f6e0c0"/>
<rect x="1021.5" y="1288.1" width="79" height="151.8" fill="none" stroke="#8a3b22" stroke-width="4.1"/>
<line x1="1019.5" y1="1379.9" x2="1102.5" y2="1379.9" stroke="#8a3b22" stroke-width="4.1" stroke-linecap="round"/>
<line x1="1191.9" y1="1262.81" x2="1191.9" y2="1332" stroke="#476b55" stroke-width="4.1"/>
<line x1="1191.9" y1="1467.9" x2="1191.9" y2="1518.41" stroke="#476b55" stroke-width="4.1"/>
<line x1="1170.9" y1="1262.81" x2="1212.9" y2="1262.81" stroke="#476b55" stroke-width="4.1"/>
<line x1="1170.9" y1="1518.41" x2="1212.9" y2="1518.41" stroke="#476b55" stroke-width="4.1"/>
<rect x="1150.15" y="1332" width="83.5" height="135.9" fill="#cdebd6"/>
<rect x="1152.15" y="1334" width="79.5" height="131.9" fill="none" stroke="#476b55" stroke-width="4.1"/>
<line x1="1150.15" y1="1405.15" x2="1233.65" y2="1405.15" stroke="#476b55" stroke-width="4.1" stroke-linecap="round"/>
<line x1="973.7" y1="1342.4" x2="1281" y2="1342.4" stroke="#1a1a1a" stroke-width="4" stroke-dasharray="9.5 13.5" stroke-linecap="round"/>
<text x="1060" y="1228.6" text-anchor="middle">p = 0.10</text>
<text x="1191" y="1242.4" text-anchor="middle">p = 5.8e-18</text>
<text x="1054.3" y="1694.7" text-anchor="middle">short-range</text>
<text x="1214.7" y="1694.7" text-anchor="middle">long-range</text>
<text transform="translate(852.5 1421) rotate(-90)" text-anchor="middle">Log2fc of inter-TAD distance,</text>
<text transform="translate(887.8 1420) rotate(-90)" text-anchor="middle">CHD7 OE/GFP OE</text>
<text x="1296" y="1199.5" font-weight="bold" font-size="36">i</text>
<line x1="1396.9" y1="1224.3" x2="1396.9" y2="1649.4" stroke="#1a1a1a" stroke-width="3.6"/>
<line x1="1395.2" y1="1647.7" x2="1687.4" y2="1647.7" stroke="#1a1a1a" stroke-width="3.6"/>
<line x1="1385" y1="1647.7" x2="1396.9" y2="1647.7" stroke="#1a1a1a" stroke-width="3.4"/>
<text x="1373.5" y="1659.7" text-anchor="end">2</text>
<line x1="1385" y1="1507.13" x2="1396.9" y2="1507.13" stroke="#1a1a1a" stroke-width="3.4"/>
<text x="1373.5" y="1519.13" text-anchor="end">4</text>
<line x1="1385" y1="1366.57" x2="1396.9" y2="1366.57" stroke="#1a1a1a" stroke-width="3.4"/>
<text x="1373.5" y="1378.57" text-anchor="end">6</text>
<line x1="1385" y1="1226" x2="1396.9" y2="1226" stroke="#1a1a1a" stroke-width="3.4"/>
<text x="1373.5" y="1238" text-anchor="end">8</text>
<line x1="1479.3" y1="1647.7" x2="1479.3" y2="1666" stroke="#1a1a1a" stroke-width="3.4"/>
<line x1="1603.4" y1="1647.7" x2="1603.4" y2="1666" stroke="#1a1a1a" stroke-width="3.4"/>
<line x1="1479" y1="1338.4" x2="1479" y2="1411" stroke="#1a1a1a" stroke-width="3.9"/>
<line x1="1479" y1="1548.1" x2="1479" y2="1612" stroke="#1a1a1a" stroke-width="3.9"/>
<line x1="1458.5" y1="1338.4" x2="1499.5" y2="1338.4" stroke="#1a1a1a" stroke-width="3.9"/>
<line x1="1458.5" y1="1612" x2="1499.5" y2="1612" stroke="#1a1a1a" stroke-width="3.9"/>
<rect x="1438.35" y="1411" width="81.3" height="137.1" fill="#e9b07b"/>
<rect x="1440.85" y="1413.5" width="76.3" height="132.1" fill="none" stroke="#1a1a1a" stroke-width="4"/>
<line x1="1438.85" y1="1484.2" x2="1519.15" y2="1484.2" stroke="#1a1a1a" stroke-width="4" stroke-linecap="round"/>
<line x1="1603.5" y1="1383.9" x2="1603.5" y2="1457.5" stroke="#1a1a1a" stroke-width="3.9"/>
<line x1="1603.5" y1="1583" x2="1603.5" y2="1633.7" stroke="#1a1a1a" stroke-width="3.9"/>
<line x1="1583.1" y1="1383.9" x2="1623.9" y2="1383.9" stroke="#1a1a1a" stroke-width="3.9"/>
<line x1="1583.1" y1="1633.7" x2="1623.9" y2="1633.7" stroke="#1a1a1a" stroke-width="3.9"/>
<rect x="1562.3" y="1457.5" width="82.4" height="125.5" fill="#8ebfe0"/>
<rect x="1564.8" y="1460" width="77.4" height="120.5" fill="none" stroke="#1a1a1a" stroke-width="4"/>
<line x1="1562.8" y1="1524.9" x2="1644.2" y2="1524.9" stroke="#1a1a1a" stroke-width="4" stroke-linecap="round"/>
<text x="1545.3" y="1295.6" text-anchor="middle">p = 2.1e-26</text>
<text x="1482" y="1701.6" text-anchor="middle">GFP</text>
<text x="1604" y="1701.6" text-anchor="middle">CHD7</text>
<text transform="translate(1340.3 1420.7) rotate(-90)" text-anchor="middle" font-size="25.35">Size of chr22 territories per cell / µm²</text></svg></body></html>
